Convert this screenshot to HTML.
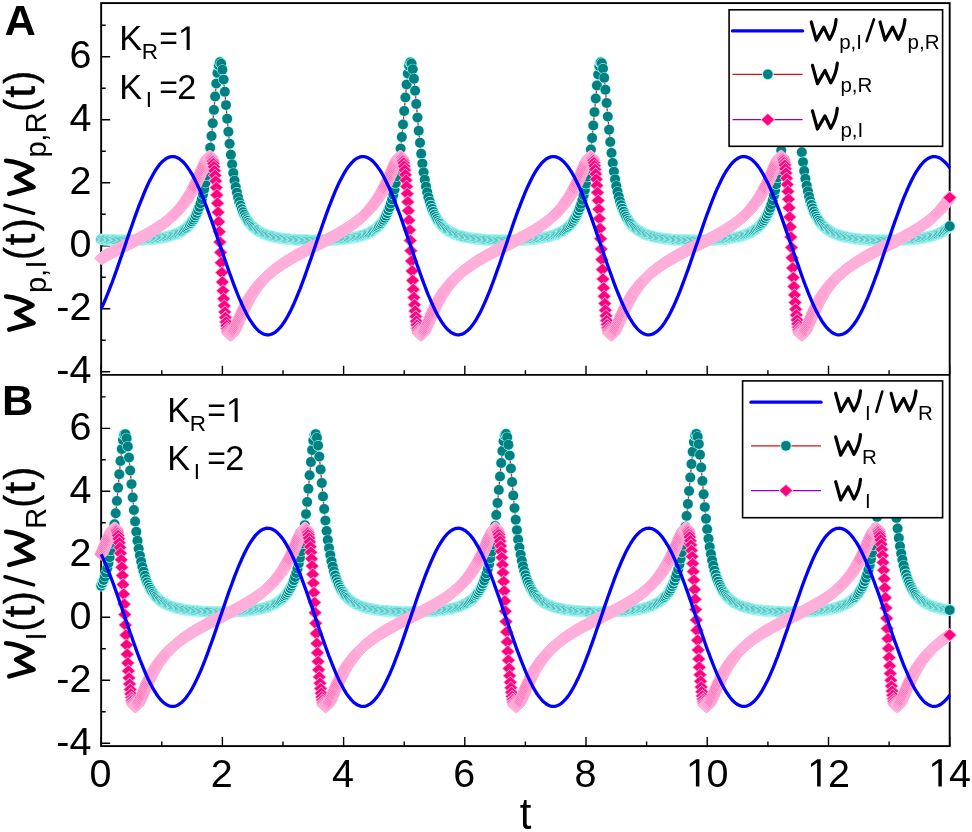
<!DOCTYPE html>
<html><head><meta charset="utf-8"><title>Figure</title><style>html,body{margin:0;padding:0;background:#fff}svg{display:block;will-change:transform}</style></head><body>
<svg width="972" height="832" viewBox="0 0 972 832">
<defs>
<marker id="mc" markerUnits="userSpaceOnUse" markerWidth="14" markerHeight="14" refX="7" refY="7" overflow="visible"><circle cx="7" cy="7" r="5.8" fill="#a2f8f5"/><circle cx="7" cy="7" r="4.85" fill="#008080"/></marker>
<marker id="mcs" markerUnits="userSpaceOnUse" markerWidth="14" markerHeight="14" refX="7" refY="7" overflow="visible"><circle cx="7" cy="7" r="5.5" fill="#a2f8f5"/><circle cx="7" cy="7" r="4.95" fill="#008080"/></marker>
<marker id="md" markerUnits="userSpaceOnUse" markerWidth="16" markerHeight="16" refX="8" refY="8" overflow="visible"><path d="M8 1.2 L15.3 8 L8 14.8 L0.7 8 Z" fill="#ffb0da"/><path d="M8 2.3 L14.2 8 L8 13.7 L1.8 8 Z" fill="#ff007f"/></marker>
<marker id="ml" markerUnits="userSpaceOnUse" markerWidth="16" markerHeight="16" refX="8" refY="8" overflow="visible"><path d="M8 1.2 L15.3 8 L8 14.8 L0.7 8 Z" fill="#ffb0da"/></marker>
<marker id="m1" markerUnits="userSpaceOnUse" markerWidth="16" markerHeight="16" refX="8" refY="8" overflow="visible"><path d="M8 1.2 L15.3 8 L8 14.8 L0.7 8 Z" fill="#ffb0da"/><path d="M8 2.3 L14.2 8 L8 13.7 L1.8 8 Z" fill="#ff8ec9"/></marker>
<marker id="m2" markerUnits="userSpaceOnUse" markerWidth="16" markerHeight="16" refX="8" refY="8" overflow="visible"><path d="M8 1.2 L15.3 8 L8 14.8 L0.7 8 Z" fill="#ffb0da"/><path d="M8 2.3 L14.2 8 L8 13.7 L1.8 8 Z" fill="#ff62b1"/></marker>
<marker id="m3" markerUnits="userSpaceOnUse" markerWidth="16" markerHeight="16" refX="8" refY="8" overflow="visible"><path d="M8 1.2 L15.3 8 L8 14.8 L0.7 8 Z" fill="#ffb0da"/><path d="M8 2.3 L14.2 8 L8 13.7 L1.8 8 Z" fill="#ff3098"/></marker>
<path id="w" d="M1.45 -19.8 L6.45 -1.6 L14 -14.7 L19.7 -2.35 Q25.4 -11.4 26.3 -22.15" fill="none" stroke="#000" stroke-linecap="round" stroke-linejoin="round"/>
</defs>
<rect width="972" height="832" fill="#fff"/>
<rect x="101.15" y="3.10" width="848.54" height="743.00" fill="none" stroke="#000" stroke-width="1.9"/>
<line x1="101.15" x2="949.69" y1="374.85" y2="374.85" stroke="#000" stroke-width="1.8"/>
<path d="M101.2 371.7 h9.0 M101.2 340.2 h4.5 M101.2 308.7 h9.0 M101.2 277.2 h4.5 M101.2 245.7 h9.0 M101.2 214.2 h4.5 M101.2 182.7 h9.0 M101.2 151.2 h4.5 M101.2 119.7 h9.0 M101.2 88.2 h4.5 M101.2 56.7 h9.0 M101.2 25.2 h4.5 M101.2 374.7 v-9.0 M161.8 374.7 v-4.5 M222.4 374.7 v-9.0 M283.0 374.7 v-4.5 M343.6 374.7 v-9.0 M404.2 374.7 v-4.5 M464.8 374.7 v-9.0 M525.4 374.7 v-4.5 M586.0 374.7 v-9.0 M646.6 374.7 v-4.5 M707.2 374.7 v-9.0 M767.9 374.7 v-4.5 M828.5 374.7 v-9.0 M889.1 374.7 v-4.5 M949.7 374.7 v-9.0" stroke="#000" stroke-width="1.4" fill="none"/>
<path d="M101.2 743.3 h9.0 M101.2 711.8 h4.5 M101.2 680.3 h9.0 M101.2 648.8 h4.5 M101.2 617.3 h9.0 M101.2 585.8 h4.5 M101.2 554.3 h9.0 M101.2 522.8 h4.5 M101.2 491.3 h9.0 M101.2 459.8 h4.5 M101.2 428.4 h9.0 M101.2 396.9 h4.5 M101.2 746.1 v-9.0 M161.8 746.1 v-4.5 M222.4 746.1 v-9.0 M283.0 746.1 v-4.5 M343.6 746.1 v-9.0 M404.2 746.1 v-4.5 M464.8 746.1 v-9.0 M525.4 746.1 v-4.5 M586.0 746.1 v-9.0 M646.6 746.1 v-4.5 M707.2 746.1 v-9.0 M767.9 746.1 v-4.5 M828.5 746.1 v-9.0 M889.1 746.1 v-4.5 M949.7 746.1 v-9.0" stroke="#000" stroke-width="1.4" fill="none"/>
<text x="91.4" y="383.4" font-family="Liberation Sans, sans-serif" font-size="39.5" text-anchor="end" fill="#000">-4</text>
<text x="91.4" y="320.4" font-family="Liberation Sans, sans-serif" font-size="39.5" text-anchor="end" fill="#000">-2</text>
<text x="91.4" y="257.4" font-family="Liberation Sans, sans-serif" font-size="39.5" text-anchor="end" fill="#000">0</text>
<text x="91.4" y="194.4" font-family="Liberation Sans, sans-serif" font-size="39.5" text-anchor="end" fill="#000">2</text>
<text x="91.4" y="131.4" font-family="Liberation Sans, sans-serif" font-size="39.5" text-anchor="end" fill="#000">4</text>
<text x="91.4" y="68.4" font-family="Liberation Sans, sans-serif" font-size="39.5" text-anchor="end" fill="#000">6</text>
<text x="91.4" y="755.0" font-family="Liberation Sans, sans-serif" font-size="39.5" text-anchor="end" fill="#000">-4</text>
<text x="91.4" y="692.0" font-family="Liberation Sans, sans-serif" font-size="39.5" text-anchor="end" fill="#000">-2</text>
<text x="91.4" y="629.0" font-family="Liberation Sans, sans-serif" font-size="39.5" text-anchor="end" fill="#000">0</text>
<text x="91.4" y="566.0" font-family="Liberation Sans, sans-serif" font-size="39.5" text-anchor="end" fill="#000">2</text>
<text x="91.4" y="503.0" font-family="Liberation Sans, sans-serif" font-size="39.5" text-anchor="end" fill="#000">4</text>
<text x="91.4" y="440.1" font-family="Liberation Sans, sans-serif" font-size="39.5" text-anchor="end" fill="#000">6</text>
<text x="100.6" y="786.5" font-family="Liberation Sans, sans-serif" font-size="39.5" text-anchor="middle" fill="#000">0</text>
<text x="221.8" y="786.5" font-family="Liberation Sans, sans-serif" font-size="39.5" text-anchor="middle" fill="#000">2</text>
<text x="343.0" y="786.5" font-family="Liberation Sans, sans-serif" font-size="39.5" text-anchor="middle" fill="#000">4</text>
<text x="464.2" y="786.5" font-family="Liberation Sans, sans-serif" font-size="39.5" text-anchor="middle" fill="#000">6</text>
<text x="585.4" y="786.5" font-family="Liberation Sans, sans-serif" font-size="39.5" text-anchor="middle" fill="#000">8</text>
<path d="M582 0V1237L264 1010V1180L597 1409H763V0Z" transform="translate(684.68 786.50) scale(0.01929 -0.01929)" fill="#000"/>
<text x="706.6" y="786.5" font-family="Liberation Sans, sans-serif" font-size="39.5" fill="#000">0</text>
<path d="M582 0V1237L264 1010V1180L597 1409H763V0Z" transform="translate(805.90 786.50) scale(0.01929 -0.01929)" fill="#000"/>
<text x="827.9" y="786.5" font-family="Liberation Sans, sans-serif" font-size="39.5" fill="#000">2</text>
<path d="M582 0V1237L264 1010V1180L597 1409H763V0Z" transform="translate(927.12 786.50) scale(0.01929 -0.01929)" fill="#000"/>
<text x="949.1" y="786.5" font-family="Liberation Sans, sans-serif" font-size="39.5" fill="#000">4</text>
<text transform="translate(525.6 829) scale(1 1.065)" font-family="Liberation Sans, sans-serif" font-size="42" text-anchor="middle" fill="#000">t</text>
<polyline points="101.2,239.4 102.4,239.5 103.6,239.6 104.8,239.7 106.0,239.7 107.2,239.8 108.4,239.9 109.6,239.9 110.8,240.0 112.1,240.1 113.3,240.1 114.5,240.1 115.7,240.2 116.9,240.2 118.1,240.2 119.3,240.3 120.5,240.3 121.8,240.3 123.0,240.3 124.2,240.3 125.4,240.3 126.6,240.3 127.8,240.3 129.0,240.3 130.2,240.3 131.5,240.2 132.7,240.2 133.9,240.2 135.1,240.1 136.3,240.1 137.5,240.1 138.7,240.0 139.9,240.0 141.2,239.9 142.4,239.8 143.6,239.8 144.8,239.7 146.0,239.6 147.2,239.5 148.4,239.4 149.6,239.3 150.9,239.2 152.1,239.1 153.3,239.0 154.5,238.8 155.7,238.7 156.9,238.5 158.1,238.4 159.3,238.2 160.5,238.0 161.8,237.8 163.0,237.6 164.2,237.3 165.4,237.1 166.6,236.8 167.8,236.5 169.0,236.2 170.2,235.9 171.5,235.5 172.7,235.2 173.9,234.7 175.1,234.3 176.3,233.8 177.5,233.3 178.7,232.7 179.9,232.1 181.2,231.4 182.4,230.7 183.6,229.9 184.8,229.0 186.0,228.1 187.2,227.0 188.4,225.8 189.6,224.5 190.9,223.1 192.1,221.5 193.3,219.7 194.5,217.7 195.7,215.5 196.9,213.0 198.1,210.2 199.3,207.0 200.6,203.3 201.8,199.2 203.0,194.4 204.2,189.0 205.4,182.7 206.6,175.6 207.8,167.5 209.0,158.2 210.2,147.7 211.5,136.0 212.7,123.3 213.9,109.9 215.1,96.4 216.3,83.6 217.5,72.9 218.7,65.4 219.9,62.2 221.2,63.7 222.4,69.8 223.6,79.6 224.8,91.8 226.0,105.1 227.2,118.7 228.4,131.7 229.6,143.8 230.9,154.7 232.1,164.3 233.3,172.9 234.5,180.4 235.7,186.9 236.9,192.6 238.1,197.6 239.3,201.9 240.6,205.7 241.8,209.1 243.0,212.1 244.2,214.7 245.4,217.0 246.6,219.1 247.8,220.9 249.0,222.6 250.3,224.1 251.5,225.4 252.7,226.6 253.9,227.7 255.1,228.7 256.3,229.6 257.5,230.4 258.7,231.2 259.9,231.9 261.2,232.5 262.4,233.1 263.6,233.6 264.8,234.1 266.0,234.6 267.2,235.0 268.4,235.4 269.6,235.8 270.9,236.1 272.1,236.4 273.3,236.7 274.5,237.0 275.7,237.3 276.9,237.5 278.1,237.7 279.3,237.9 280.6,238.1 281.8,238.3 283.0,238.5 284.2,238.6 285.4,238.8 286.6,238.9 287.8,239.1 289.0,239.2 290.3,239.3 291.5,239.4 292.7,239.5 293.9,239.6 295.1,239.7 296.3,239.7 297.5,239.8 298.7,239.9 300.0,239.9 301.2,240.0 302.4,240.0 303.6,240.1 304.8,240.1 306.0,240.2 307.2,240.2 308.4,240.2 309.6,240.2 310.9,240.3 312.1,240.3 313.3,240.3 314.5,240.3 315.7,240.3 316.9,240.3 318.1,240.3 319.3,240.3 320.6,240.3 321.8,240.2 323.0,240.2 324.2,240.2 325.4,240.1 326.6,240.1 327.8,240.1 329.0,240.0 330.3,240.0 331.5,239.9 332.7,239.8 333.9,239.8 335.1,239.7 336.3,239.6 337.5,239.5 338.7,239.4 340.0,239.3 341.2,239.2 342.4,239.1 343.6,239.0 344.8,238.8 346.0,238.7 347.2,238.5 348.4,238.4 349.7,238.2 350.9,238.0 352.1,237.8 353.3,237.6 354.5,237.4 355.7,237.1 356.9,236.9 358.1,236.6 359.3,236.3 360.6,235.9 361.8,235.6 363.0,235.2 364.2,234.8 365.4,234.3 366.6,233.9 367.8,233.3 369.0,232.8 370.3,232.2 371.5,231.5 372.7,230.8 373.9,230.0 375.1,229.1 376.3,228.1 377.5,227.1 378.7,225.9 380.0,224.6 381.2,223.2 382.4,221.6 383.6,219.9 384.8,217.9 386.0,215.7 387.2,213.2 388.4,210.4 389.7,207.2 390.9,203.6 392.1,199.5 393.3,194.8 394.5,189.4 395.7,183.3 396.9,176.2 398.1,168.1 399.4,159.0 400.6,148.6 401.8,137.0 403.0,124.4 404.2,111.0 405.4,97.4 406.6,84.6 407.8,73.6 409.0,65.8 410.3,62.3 411.5,63.4 412.7,69.2 413.9,78.7 415.1,90.7 416.3,104.0 417.5,117.6 418.7,130.7 420.0,142.8 421.2,153.8 422.4,163.6 423.6,172.2 424.8,179.8 426.0,186.4 427.2,192.2 428.4,197.2 429.7,201.6 430.9,205.5 432.1,208.8 433.3,211.8 434.5,214.5 435.7,216.8 436.9,218.9 438.1,220.8 439.4,222.4 440.6,223.9 441.8,225.3 443.0,226.5 444.2,227.6 445.4,228.6 446.6,229.5 447.8,230.4 449.1,231.1 450.3,231.8 451.5,232.5 452.7,233.1 453.9,233.6 455.1,234.1 456.3,234.6 457.5,235.0 458.7,235.4 460.0,235.8 461.2,236.1 462.4,236.4 463.6,236.7 464.8,237.0 466.0,237.2 467.2,237.5 468.4,237.7 469.7,237.9 470.9,238.1 472.1,238.3 473.3,238.5 474.5,238.6 475.7,238.8 476.9,238.9 478.1,239.0 479.4,239.2 480.6,239.3 481.8,239.4 483.0,239.5 484.2,239.6 485.4,239.7 486.6,239.7 487.8,239.8 489.1,239.9 490.3,239.9 491.5,240.0 492.7,240.0 493.9,240.1 495.1,240.1 496.3,240.2 497.5,240.2 498.8,240.2 500.0,240.2 501.2,240.3 502.4,240.3 503.6,240.3 504.8,240.3 506.0,240.3 507.2,240.3 508.4,240.3 509.7,240.3 510.9,240.3 512.1,240.2 513.3,240.2 514.5,240.2 515.7,240.2 516.9,240.1 518.1,240.1 519.4,240.0 520.6,240.0 521.8,239.9 523.0,239.8 524.2,239.8 525.4,239.7 526.6,239.6 527.8,239.5 529.1,239.4 530.3,239.3 531.5,239.2 532.7,239.1 533.9,239.0 535.1,238.9 536.3,238.7 537.5,238.6 538.8,238.4 540.0,238.2 541.2,238.0 542.4,237.8 543.6,237.6 544.8,237.4 546.0,237.1 547.2,236.9 548.5,236.6 549.7,236.3 550.9,236.0 552.1,235.6 553.3,235.2 554.5,234.8 555.7,234.4 556.9,233.9 558.1,233.4 559.4,232.8 560.6,232.2 561.8,231.5 563.0,230.8 564.2,230.0 565.4,229.2 566.6,228.2 567.8,227.2 569.1,226.0 570.3,224.8 571.5,223.3 572.7,221.8 573.9,220.0 575.1,218.1 576.3,215.9 577.5,213.4 578.8,210.6 580.0,207.5 581.2,203.9 582.4,199.9 583.6,195.2 584.8,189.9 586.0,183.8 587.2,176.8 588.5,168.8 589.7,159.7 590.9,149.5 592.1,138.0 593.3,125.4 594.5,112.1 595.7,98.5 596.9,85.5 598.2,74.4 599.4,66.3 600.6,62.4 601.8,63.2 603.0,68.6 604.2,77.8 605.4,89.7 606.6,103.0 607.8,116.6 609.1,129.7 610.3,141.9 611.5,153.0 612.7,162.9 613.9,171.6 615.1,179.2 616.3,185.9 617.5,191.7 618.8,196.8 620.0,201.3 621.2,205.2 622.4,208.6 623.6,211.6 624.8,214.3 626.0,216.6 627.2,218.8 628.5,220.6 629.7,222.3 630.9,223.8 632.1,225.2 633.3,226.4 634.5,227.5 635.7,228.5 636.9,229.5 638.2,230.3 639.4,231.1 640.6,231.8 641.8,232.4 643.0,233.0 644.2,233.6 645.4,234.1 646.6,234.5 647.9,235.0 649.1,235.4 650.3,235.7 651.5,236.1 652.7,236.4 653.9,236.7 655.1,237.0 656.3,237.2 657.5,237.5 658.8,237.7 660.0,237.9 661.2,238.1 662.4,238.3 663.6,238.5 664.8,238.6 666.0,238.8 667.2,238.9 668.5,239.0 669.7,239.2 670.9,239.3 672.1,239.4 673.3,239.5 674.5,239.6 675.7,239.7 676.9,239.7 678.2,239.8 679.4,239.9 680.6,239.9 681.8,240.0 683.0,240.0 684.2,240.1 685.4,240.1 686.6,240.2 687.9,240.2 689.1,240.2 690.3,240.2 691.5,240.3 692.7,240.3 693.9,240.3 695.1,240.3 696.3,240.3 697.6,240.3 698.8,240.3 700.0,240.3 701.2,240.3 702.4,240.2 703.6,240.2 704.8,240.2 706.0,240.2 707.2,240.1 708.5,240.1 709.7,240.0 710.9,240.0 712.1,239.9 713.3,239.9 714.5,239.8 715.7,239.7 716.9,239.6 718.2,239.5 719.4,239.5 720.6,239.3 721.8,239.2 723.0,239.1 724.2,239.0 725.4,238.9 726.6,238.7 727.9,238.6 729.1,238.4 730.3,238.2 731.5,238.0 732.7,237.8 733.9,237.6 735.1,237.4 736.3,237.2 737.6,236.9 738.8,236.6 740.0,236.3 741.2,236.0 742.4,235.6 743.6,235.3 744.8,234.8 746.0,234.4 747.3,233.9 748.5,233.4 749.7,232.9 750.9,232.3 752.1,231.6 753.3,230.9 754.5,230.1 755.7,229.2 757.0,228.3 758.2,227.3 759.4,226.1 760.6,224.9 761.8,223.5 763.0,221.9 764.2,220.2 765.4,218.2 766.6,216.1 767.9,213.6 769.1,210.9 770.3,207.8 771.5,204.2 772.7,200.2 773.9,195.6 775.1,190.3 776.3,184.3 777.6,177.4 778.8,169.5 780.0,160.5 781.2,150.3 782.4,138.9 783.6,126.4 784.8,113.1 786.0,99.6 787.3,86.5 788.5,75.2 789.7,66.8 790.9,62.5 792.1,62.9 793.3,68.0 794.5,77.0 795.7,88.7 797.0,101.9 798.2,115.5 799.4,128.7 800.6,141.0 801.8,152.2 803.0,162.1 804.2,170.9 805.4,178.7 806.7,185.4 807.9,191.3 809.1,196.4 810.3,200.9 811.5,204.9 812.7,208.3 813.9,211.4 815.1,214.1 816.3,216.5 817.6,218.6 818.8,220.5 820.0,222.2 821.2,223.7 822.4,225.1 823.6,226.3 824.8,227.4 826.0,228.5 827.3,229.4 828.5,230.2 829.7,231.0 830.9,231.7 832.1,232.4 833.3,233.0 834.5,233.5 835.7,234.0 837.0,234.5 838.2,234.9 839.4,235.3 840.6,235.7 841.8,236.0 843.0,236.4 844.2,236.7 845.4,236.9 846.7,237.2 847.9,237.4 849.1,237.7 850.3,237.9 851.5,238.1 852.7,238.3 853.9,238.4 855.1,238.6 856.4,238.8 857.6,238.9 858.8,239.0 860.0,239.1 861.2,239.3 862.4,239.4 863.6,239.5 864.8,239.6 866.0,239.6 867.3,239.7 868.5,239.8 869.7,239.9 870.9,239.9 872.1,240.0 873.3,240.0 874.5,240.1 875.7,240.1 877.0,240.2 878.2,240.2 879.4,240.2 880.6,240.2 881.8,240.3 883.0,240.3 884.2,240.3 885.4,240.3 886.7,240.3 887.9,240.3 889.1,240.3 890.3,240.3 891.5,240.3 892.7,240.2 893.9,240.2 895.1,240.2 896.4,240.2 897.6,240.1 898.8,240.1 900.0,240.0 901.2,240.0 902.4,239.9 903.6,239.9 904.8,239.8 906.1,239.7 907.3,239.6 908.5,239.6 909.7,239.5 910.9,239.4 912.1,239.3 913.3,239.1 914.5,239.0 915.7,238.9 917.0,238.7 918.2,238.6 919.4,238.4 920.6,238.2 921.8,238.1 923.0,237.9 924.2,237.7 925.4,237.4 926.7,237.2 927.9,236.9 929.1,236.6 930.3,236.3 931.5,236.0 932.7,235.7 933.9,235.3 935.1,234.9 936.4,234.4 937.6,234.0 938.8,233.5 940.0,232.9 941.2,232.3 942.4,231.7 943.6,230.9 944.8,230.2 946.1,229.3 947.3,228.4 948.5,227.3 949.7,226.2" fill="none" stroke="#f01818" stroke-width="1.3"/>
<polyline points="101.2,239.4 102.4,239.5 103.6,239.6 104.8,239.7 106.0,239.7 107.2,239.8 108.4,239.9 109.6,239.9 110.8,240.0 112.1,240.1 113.3,240.1 114.5,240.1 115.7,240.2 116.9,240.2 118.1,240.2 119.3,240.3 120.5,240.3 121.8,240.3 123.0,240.3 124.2,240.3 125.4,240.3 126.6,240.3 127.8,240.3 129.0,240.3 130.2,240.3 131.5,240.2 132.7,240.2 133.9,240.2 135.1,240.1 136.3,240.1 137.5,240.1 138.7,240.0 139.9,240.0 141.2,239.9 142.4,239.8 143.6,239.8 144.8,239.7 146.0,239.6 147.2,239.5 148.4,239.4 149.6,239.3 150.9,239.2 152.1,239.1 153.3,239.0 154.5,238.8 155.7,238.7 156.9,238.5 158.1,238.4 159.3,238.2 160.5,238.0 161.8,237.8 163.0,237.6 164.2,237.3 165.4,237.1 166.6,236.8 167.8,236.5 169.0,236.2 170.2,235.9 171.5,235.5 172.7,235.2 173.9,234.7 175.1,234.3 176.3,233.8 177.5,233.3 178.7,232.7 179.9,232.1 181.2,231.4 182.4,230.7 183.6,229.9 184.8,229.0 186.0,228.1 187.2,227.0 188.4,225.8 189.6,224.5 190.9,223.1 192.1,221.5 193.3,219.7 194.5,217.7 195.7,215.5 196.9,213.0 198.1,210.2 199.3,207.0" fill="none" stroke="none" marker-start="url(#mc)" marker-mid="url(#mc)" marker-end="url(#mc)"/>
<polyline points="200.6,203.3 201.8,199.2 203.0,194.4 204.2,189.0 205.4,182.7 206.6,175.6 207.8,167.5 209.0,158.2 210.2,147.7 211.5,136.0 212.7,123.3 213.9,109.9 215.1,96.4 216.3,83.6 217.5,72.9" fill="none" stroke="none" marker-start="url(#mcs)" marker-mid="url(#mcs)" marker-end="url(#mcs)"/>
<polyline points="218.7,65.4 219.9,62.2" fill="none" stroke="none" marker-start="url(#mc)" marker-mid="url(#mc)" marker-end="url(#mc)"/>
<polyline points="221.2,63.7 222.4,69.8 223.6,79.6 224.8,91.8 226.0,105.1 227.2,118.7 228.4,131.7 229.6,143.8 230.9,154.7 232.1,164.3 233.3,172.9 234.5,180.4 235.7,186.9 236.9,192.6 238.1,197.6 239.3,201.9" fill="none" stroke="none" marker-start="url(#mcs)" marker-mid="url(#mcs)" marker-end="url(#mcs)"/>
<polyline points="240.6,205.7 241.8,209.1 243.0,212.1 244.2,214.7 245.4,217.0 246.6,219.1 247.8,220.9 249.0,222.6 250.3,224.1 251.5,225.4 252.7,226.6 253.9,227.7 255.1,228.7 256.3,229.6 257.5,230.4 258.7,231.2 259.9,231.9 261.2,232.5 262.4,233.1 263.6,233.6 264.8,234.1 266.0,234.6 267.2,235.0 268.4,235.4 269.6,235.8 270.9,236.1 272.1,236.4 273.3,236.7 274.5,237.0 275.7,237.3 276.9,237.5 278.1,237.7 279.3,237.9 280.6,238.1 281.8,238.3 283.0,238.5 284.2,238.6 285.4,238.8 286.6,238.9 287.8,239.1 289.0,239.2 290.3,239.3 291.5,239.4 292.7,239.5 293.9,239.6 295.1,239.7 296.3,239.7 297.5,239.8 298.7,239.9 300.0,239.9 301.2,240.0 302.4,240.0 303.6,240.1 304.8,240.1 306.0,240.2 307.2,240.2 308.4,240.2 309.6,240.2 310.9,240.3 312.1,240.3 313.3,240.3 314.5,240.3 315.7,240.3 316.9,240.3 318.1,240.3 319.3,240.3 320.6,240.3 321.8,240.2 323.0,240.2 324.2,240.2 325.4,240.1 326.6,240.1 327.8,240.1 329.0,240.0 330.3,240.0 331.5,239.9 332.7,239.8 333.9,239.8 335.1,239.7 336.3,239.6 337.5,239.5 338.7,239.4 340.0,239.3 341.2,239.2 342.4,239.1 343.6,239.0 344.8,238.8 346.0,238.7 347.2,238.5 348.4,238.4 349.7,238.2 350.9,238.0 352.1,237.8 353.3,237.6 354.5,237.4 355.7,237.1 356.9,236.9 358.1,236.6 359.3,236.3 360.6,235.9 361.8,235.6 363.0,235.2 364.2,234.8 365.4,234.3 366.6,233.9 367.8,233.3 369.0,232.8 370.3,232.2 371.5,231.5 372.7,230.8 373.9,230.0 375.1,229.1 376.3,228.1 377.5,227.1 378.7,225.9 380.0,224.6 381.2,223.2 382.4,221.6 383.6,219.9 384.8,217.9 386.0,215.7 387.2,213.2 388.4,210.4 389.7,207.2" fill="none" stroke="none" marker-start="url(#mc)" marker-mid="url(#mc)" marker-end="url(#mc)"/>
<polyline points="390.9,203.6 392.1,199.5 393.3,194.8 394.5,189.4 395.7,183.3 396.9,176.2 398.1,168.1 399.4,159.0 400.6,148.6 401.8,137.0 403.0,124.4 404.2,111.0 405.4,97.4 406.6,84.6 407.8,73.6" fill="none" stroke="none" marker-start="url(#mcs)" marker-mid="url(#mcs)" marker-end="url(#mcs)"/>
<polyline points="409.0,65.8 410.3,62.3" fill="none" stroke="none" marker-start="url(#mc)" marker-mid="url(#mc)" marker-end="url(#mc)"/>
<polyline points="411.5,63.4 412.7,69.2 413.9,78.7 415.1,90.7 416.3,104.0 417.5,117.6 418.7,130.7 420.0,142.8 421.2,153.8 422.4,163.6 423.6,172.2 424.8,179.8 426.0,186.4 427.2,192.2 428.4,197.2 429.7,201.6" fill="none" stroke="none" marker-start="url(#mcs)" marker-mid="url(#mcs)" marker-end="url(#mcs)"/>
<polyline points="430.9,205.5 432.1,208.8 433.3,211.8 434.5,214.5 435.7,216.8 436.9,218.9 438.1,220.8 439.4,222.4 440.6,223.9 441.8,225.3 443.0,226.5 444.2,227.6 445.4,228.6 446.6,229.5 447.8,230.4 449.1,231.1 450.3,231.8 451.5,232.5 452.7,233.1 453.9,233.6 455.1,234.1 456.3,234.6 457.5,235.0 458.7,235.4 460.0,235.8 461.2,236.1 462.4,236.4 463.6,236.7 464.8,237.0 466.0,237.2 467.2,237.5 468.4,237.7 469.7,237.9 470.9,238.1 472.1,238.3 473.3,238.5 474.5,238.6 475.7,238.8 476.9,238.9 478.1,239.0 479.4,239.2 480.6,239.3 481.8,239.4 483.0,239.5 484.2,239.6 485.4,239.7 486.6,239.7 487.8,239.8 489.1,239.9 490.3,239.9 491.5,240.0 492.7,240.0 493.9,240.1 495.1,240.1 496.3,240.2 497.5,240.2 498.8,240.2 500.0,240.2 501.2,240.3 502.4,240.3 503.6,240.3 504.8,240.3 506.0,240.3 507.2,240.3 508.4,240.3 509.7,240.3 510.9,240.3 512.1,240.2 513.3,240.2 514.5,240.2 515.7,240.2 516.9,240.1 518.1,240.1 519.4,240.0 520.6,240.0 521.8,239.9 523.0,239.8 524.2,239.8 525.4,239.7 526.6,239.6 527.8,239.5 529.1,239.4 530.3,239.3 531.5,239.2 532.7,239.1 533.9,239.0 535.1,238.9 536.3,238.7 537.5,238.6 538.8,238.4 540.0,238.2 541.2,238.0 542.4,237.8 543.6,237.6 544.8,237.4 546.0,237.1 547.2,236.9 548.5,236.6 549.7,236.3 550.9,236.0 552.1,235.6 553.3,235.2 554.5,234.8 555.7,234.4 556.9,233.9 558.1,233.4 559.4,232.8 560.6,232.2 561.8,231.5 563.0,230.8 564.2,230.0 565.4,229.2 566.6,228.2 567.8,227.2 569.1,226.0 570.3,224.8 571.5,223.3 572.7,221.8 573.9,220.0 575.1,218.1 576.3,215.9 577.5,213.4 578.8,210.6 580.0,207.5" fill="none" stroke="none" marker-start="url(#mc)" marker-mid="url(#mc)" marker-end="url(#mc)"/>
<polyline points="581.2,203.9 582.4,199.9 583.6,195.2 584.8,189.9 586.0,183.8 587.2,176.8 588.5,168.8 589.7,159.7 590.9,149.5 592.1,138.0 593.3,125.4 594.5,112.1 595.7,98.5 596.9,85.5 598.2,74.4 599.4,66.3" fill="none" stroke="none" marker-start="url(#mcs)" marker-mid="url(#mcs)" marker-end="url(#mcs)"/>
<polyline points="600.6,62.4 600.6,62.4" fill="none" stroke="none" marker-start="url(#mc)" marker-mid="url(#mc)" marker-end="url(#mc)"/>
<polyline points="601.8,63.2 603.0,68.6 604.2,77.8 605.4,89.7 606.6,103.0 607.8,116.6 609.1,129.7 610.3,141.9 611.5,153.0 612.7,162.9 613.9,171.6 615.1,179.2 616.3,185.9 617.5,191.7 618.8,196.8 620.0,201.3" fill="none" stroke="none" marker-start="url(#mcs)" marker-mid="url(#mcs)" marker-end="url(#mcs)"/>
<polyline points="621.2,205.2 622.4,208.6 623.6,211.6 624.8,214.3 626.0,216.6 627.2,218.8 628.5,220.6 629.7,222.3 630.9,223.8 632.1,225.2 633.3,226.4 634.5,227.5 635.7,228.5 636.9,229.5 638.2,230.3 639.4,231.1 640.6,231.8 641.8,232.4 643.0,233.0 644.2,233.6 645.4,234.1 646.6,234.5 647.9,235.0 649.1,235.4 650.3,235.7 651.5,236.1 652.7,236.4 653.9,236.7 655.1,237.0 656.3,237.2 657.5,237.5 658.8,237.7 660.0,237.9 661.2,238.1 662.4,238.3 663.6,238.5 664.8,238.6 666.0,238.8 667.2,238.9 668.5,239.0 669.7,239.2 670.9,239.3 672.1,239.4 673.3,239.5 674.5,239.6 675.7,239.7 676.9,239.7 678.2,239.8 679.4,239.9 680.6,239.9 681.8,240.0 683.0,240.0 684.2,240.1 685.4,240.1 686.6,240.2 687.9,240.2 689.1,240.2 690.3,240.2 691.5,240.3 692.7,240.3 693.9,240.3 695.1,240.3 696.3,240.3 697.6,240.3 698.8,240.3 700.0,240.3 701.2,240.3 702.4,240.2 703.6,240.2 704.8,240.2 706.0,240.2 707.2,240.1 708.5,240.1 709.7,240.0 710.9,240.0 712.1,239.9 713.3,239.9 714.5,239.8 715.7,239.7 716.9,239.6 718.2,239.5 719.4,239.5 720.6,239.3 721.8,239.2 723.0,239.1 724.2,239.0 725.4,238.9 726.6,238.7 727.9,238.6 729.1,238.4 730.3,238.2 731.5,238.0 732.7,237.8 733.9,237.6 735.1,237.4 736.3,237.2 737.6,236.9 738.8,236.6 740.0,236.3 741.2,236.0 742.4,235.6 743.6,235.3 744.8,234.8 746.0,234.4 747.3,233.9 748.5,233.4 749.7,232.9 750.9,232.3 752.1,231.6 753.3,230.9 754.5,230.1 755.7,229.2 757.0,228.3 758.2,227.3 759.4,226.1 760.6,224.9 761.8,223.5 763.0,221.9 764.2,220.2 765.4,218.2 766.6,216.1 767.9,213.6 769.1,210.9 770.3,207.8" fill="none" stroke="none" marker-start="url(#mc)" marker-mid="url(#mc)" marker-end="url(#mc)"/>
<polyline points="771.5,204.2 772.7,200.2 773.9,195.6 775.1,190.3 776.3,184.3 777.6,177.4 778.8,169.5 780.0,160.5 781.2,150.3 782.4,138.9 783.6,126.4 784.8,113.1 786.0,99.6 787.3,86.5 788.5,75.2 789.7,66.8" fill="none" stroke="none" marker-start="url(#mcs)" marker-mid="url(#mcs)" marker-end="url(#mcs)"/>
<polyline points="790.9,62.5 790.9,62.5" fill="none" stroke="none" marker-start="url(#mc)" marker-mid="url(#mc)" marker-end="url(#mc)"/>
<polyline points="792.1,62.9 793.3,68.0 794.5,77.0 795.7,88.7 797.0,101.9 798.2,115.5 799.4,128.7 800.6,141.0 801.8,152.2 803.0,162.1 804.2,170.9 805.4,178.7 806.7,185.4 807.9,191.3 809.1,196.4 810.3,200.9" fill="none" stroke="none" marker-start="url(#mcs)" marker-mid="url(#mcs)" marker-end="url(#mcs)"/>
<polyline points="811.5,204.9 812.7,208.3 813.9,211.4 815.1,214.1 816.3,216.5 817.6,218.6 818.8,220.5 820.0,222.2 821.2,223.7 822.4,225.1 823.6,226.3 824.8,227.4 826.0,228.5 827.3,229.4 828.5,230.2 829.7,231.0 830.9,231.7 832.1,232.4 833.3,233.0 834.5,233.5 835.7,234.0 837.0,234.5 838.2,234.9 839.4,235.3 840.6,235.7 841.8,236.0 843.0,236.4 844.2,236.7 845.4,236.9 846.7,237.2 847.9,237.4 849.1,237.7 850.3,237.9 851.5,238.1 852.7,238.3 853.9,238.4 855.1,238.6 856.4,238.8 857.6,238.9 858.8,239.0 860.0,239.1 861.2,239.3 862.4,239.4 863.6,239.5 864.8,239.6 866.0,239.6 867.3,239.7 868.5,239.8 869.7,239.9 870.9,239.9 872.1,240.0 873.3,240.0 874.5,240.1 875.7,240.1 877.0,240.2 878.2,240.2 879.4,240.2 880.6,240.2 881.8,240.3 883.0,240.3 884.2,240.3 885.4,240.3 886.7,240.3 887.9,240.3 889.1,240.3 890.3,240.3 891.5,240.3 892.7,240.2 893.9,240.2 895.1,240.2 896.4,240.2 897.6,240.1 898.8,240.1 900.0,240.0 901.2,240.0 902.4,239.9 903.6,239.9 904.8,239.8 906.1,239.7 907.3,239.6 908.5,239.6 909.7,239.5 910.9,239.4 912.1,239.3 913.3,239.1 914.5,239.0 915.7,238.9 917.0,238.7 918.2,238.6 919.4,238.4 920.6,238.2 921.8,238.1 923.0,237.9 924.2,237.7 925.4,237.4 926.7,237.2 927.9,236.9 929.1,236.6 930.3,236.3 931.5,236.0 932.7,235.7 933.9,235.3 935.1,234.9 936.4,234.4 937.6,234.0 938.8,233.5 940.0,232.9 941.2,232.3 942.4,231.7 943.6,230.9 944.8,230.2 946.1,229.3 947.3,228.4 948.5,227.3" fill="none" stroke="none" marker-start="url(#mc)" marker-mid="url(#mc)" marker-end="url(#mc)"/>
<polyline points="949.7,226.2 949.7,226.2" fill="none" stroke="none" marker-start="url(#mcs)" marker-mid="url(#mcs)" marker-end="url(#mcs)"/>
<polyline points="101.2,258.3 101.8,257.9 102.4,257.6 103.0,257.3 103.6,256.9 104.2,256.6 104.8,256.2 105.4,255.9 106.0,255.6 106.6,255.2 107.2,254.9 107.8,254.6 108.4,254.2 109.0,253.9 109.6,253.6 110.2,253.3 110.8,252.9 111.5,252.6 112.1,252.3 112.7,252.0 113.3,251.7 113.9,251.3 114.5,251.0 115.1,250.7 115.7,250.4 116.3,250.1 116.9,249.8 117.5,249.5 118.1,249.2 118.7,248.8 119.3,248.5 119.9,248.2 120.5,247.9 121.2,247.6 121.8,247.3 122.4,247.0 123.0,246.7 123.6,246.4 124.2,246.1 124.8,245.8 125.4,245.5 126.0,245.2 126.6,244.9 127.2,244.6 127.8,244.3 128.4,243.9 129.0,243.6 129.6,243.3 130.2,243.0 130.8,242.7 131.5,242.4 132.1,242.1 132.7,241.8 133.3,241.5 133.9,241.2 134.5,240.9 135.1,240.5 135.7,240.2 136.3,239.9 136.9,239.6 137.5,239.3 138.1,239.0 138.7,238.6 139.3,238.3 139.9,238.0 140.5,237.7 141.2,237.3 141.8,237.0 142.4,236.7 143.0,236.4 143.6,236.0 144.2,235.7 144.8,235.4 145.4,235.0 146.0,234.7 146.6,234.3 147.2,234.0 147.8,233.6 148.4,233.3 149.0,232.9 149.6,232.6 150.2,232.2 150.9,231.9 151.5,231.5 152.1,231.1 152.7,230.8 153.3,230.4 153.9,230.0 154.5,229.6 155.1,229.2 155.7,228.9 156.3,228.5 156.9,228.1 157.5,227.7 158.1,227.3 158.7,226.9 159.3,226.5 159.9,226.0 160.5,225.6 161.2,225.2 161.8,224.8 162.4,224.3 163.0,223.9 163.6,223.4 164.2,223.0 164.8,222.5 165.4,222.0 166.0,221.6 166.6,221.1 167.2,220.6 167.8,220.1 168.4,219.6 169.0,219.1 169.6,218.6 170.2,218.1 170.9,217.5 171.5,217.0 172.1,216.5 172.7,215.9 173.3,215.3 173.9,214.8" fill="none" stroke="none" marker-start="url(#ml)" marker-mid="url(#ml)" marker-end="url(#ml)"/>
<polyline points="174.5,214.2 175.1,213.6 175.7,213.0 176.3,212.3 176.9,211.7 177.5,211.1 178.1,210.4 178.7,209.8 179.3,209.1 179.9,208.4 180.5,207.7 181.2,207.0 181.8,206.2 182.4,205.5 183.0,204.7 183.6,203.9 184.2,203.1 184.8,202.3 185.4,201.5 186.0,200.6 186.6,199.8 187.2,198.9 187.8,198.0 188.4,197.0 189.0,196.1 189.6,195.1 190.2,194.1 190.9,193.1 191.5,192.0 192.1,191.0 192.7,189.9 193.3,188.8" fill="none" stroke="none" marker-start="url(#m1)" marker-mid="url(#m1)" marker-end="url(#m1)"/>
<polyline points="193.9,187.6 194.5,186.5 195.1,185.3 195.7,184.0 196.3,182.8 196.9,181.5 197.5,180.2 198.1,178.9 198.7,177.6 199.3,176.2 199.9,174.8 200.6,173.4 201.2,172.0 201.8,170.6 202.4,169.2 203.0,167.8 203.6,166.4 204.2,165.0 204.8,163.7 205.4,162.4" fill="none" stroke="none" marker-start="url(#m2)" marker-mid="url(#m2)" marker-end="url(#m2)"/>
<polyline points="206.0,161.2 206.6,160.0 207.2,159.0 207.8,158.1" fill="none" stroke="none" marker-start="url(#m1)" marker-mid="url(#m1)" marker-end="url(#m1)"/>
<polyline points="208.4,157.4 209.0,156.9 209.6,156.6 210.2,156.7" fill="none" stroke="none" marker-start="url(#ml)" marker-mid="url(#ml)" marker-end="url(#ml)"/>
<polyline points="210.9,157.1 210.9,157.1" fill="none" stroke="none" marker-start="url(#m1)" marker-mid="url(#m1)" marker-end="url(#m1)"/>
<polyline points="211.5,157.9 212.1,159.2" fill="none" stroke="none" marker-start="url(#m2)" marker-mid="url(#m2)" marker-end="url(#m2)"/>
<polyline points="212.7,161.1 212.7,161.1" fill="none" stroke="none" marker-start="url(#m3)" marker-mid="url(#m3)" marker-end="url(#m3)"/>
<polyline points="213.3,163.6 213.9,166.8 214.5,170.7 215.1,175.5 215.7,181.1 216.3,187.6 216.9,195.0 217.5,203.2 218.1,212.2 218.7,221.7 219.3,231.8 219.9,242.1 220.6,252.4 221.2,262.7 221.8,272.6 222.4,282.0 223.0,290.7 223.6,298.7 224.2,305.8 224.8,312.1 225.4,317.4 226.0,322.0 226.6,325.7" fill="none" stroke="none" marker-start="url(#md)" marker-mid="url(#md)" marker-end="url(#md)"/>
<polyline points="227.2,328.7 227.2,328.7" fill="none" stroke="none" marker-start="url(#m3)" marker-mid="url(#m3)" marker-end="url(#m3)"/>
<polyline points="227.8,330.9 228.4,332.6" fill="none" stroke="none" marker-start="url(#m2)" marker-mid="url(#m2)" marker-end="url(#m2)"/>
<polyline points="229.0,333.8 229.0,333.8" fill="none" stroke="none" marker-start="url(#m1)" marker-mid="url(#m1)" marker-end="url(#m1)"/>
<polyline points="229.6,334.5 230.2,334.8 230.9,334.7 231.5,334.4" fill="none" stroke="none" marker-start="url(#ml)" marker-mid="url(#ml)" marker-end="url(#ml)"/>
<polyline points="232.1,333.8 232.7,333.0 233.3,332.1" fill="none" stroke="none" marker-start="url(#m1)" marker-mid="url(#m1)" marker-end="url(#m1)"/>
<polyline points="233.9,331.1 234.5,329.9 235.1,328.6 235.7,327.3 236.3,326.0 236.9,324.6 237.5,323.2 238.1,321.8 238.7,320.4 239.3,318.9 239.9,317.5 240.6,316.2 241.2,314.8 241.8,313.4 242.4,312.1 243.0,310.8 243.6,309.5 244.2,308.2 244.8,307.0 245.4,305.8 246.0,304.6" fill="none" stroke="none" marker-start="url(#m2)" marker-mid="url(#m2)" marker-end="url(#m2)"/>
<polyline points="246.6,303.4 247.2,302.3 247.8,301.2 248.4,300.1 249.0,299.0 249.6,298.0 250.3,297.0 250.9,296.0 251.5,295.0 252.1,294.1 252.7,293.2 253.3,292.3 253.9,291.4 254.5,290.5 255.1,289.7 255.7,288.8 256.3,288.0 256.9,287.2 257.5,286.5 258.1,285.7 258.7,284.9 259.3,284.2 259.9,283.5 260.6,282.8 261.2,282.1 261.8,281.4 262.4,280.8 263.0,280.1 263.6,279.5 264.2,278.9 264.8,278.3" fill="none" stroke="none" marker-start="url(#m1)" marker-mid="url(#m1)" marker-end="url(#m1)"/>
<polyline points="265.4,277.6 266.0,277.1 266.6,276.5 267.2,275.9 267.8,275.3 268.4,274.8 269.0,274.2 269.6,273.7 270.3,273.2 270.9,272.7 271.5,272.1 272.1,271.6 272.7,271.1 273.3,270.6 273.9,270.2 274.5,269.7 275.1,269.2 275.7,268.8 276.3,268.3 276.9,267.8 277.5,267.4 278.1,267.0 278.7,266.5 279.3,266.1 279.9,265.7 280.6,265.2 281.2,264.8 281.8,264.4 282.4,264.0 283.0,263.6 283.6,263.2 284.2,262.8 284.8,262.4 285.4,262.0 286.0,261.7 286.6,261.3 287.2,260.9 287.8,260.5 288.4,260.2 289.0,259.8 289.6,259.4 290.3,259.1 290.9,258.7 291.5,258.4 292.1,258.0 292.7,257.7 293.3,257.3 293.9,257.0 294.5,256.6 295.1,256.3 295.7,255.9 296.3,255.6 296.9,255.3 297.5,254.9 298.1,254.6 298.7,254.3 299.3,254.0 300.0,253.6 300.6,253.3 301.2,253.0 301.8,252.7 302.4,252.3 303.0,252.0 303.6,251.7 304.2,251.4 304.8,251.1 305.4,250.8 306.0,250.5 306.6,250.1 307.2,249.8 307.8,249.5 308.4,249.2 309.0,248.9 309.6,248.6 310.3,248.3 310.9,248.0 311.5,247.7 312.1,247.4 312.7,247.1 313.3,246.7 313.9,246.4 314.5,246.1 315.1,245.8 315.7,245.5 316.3,245.2 316.9,244.9 317.5,244.6 318.1,244.3 318.7,244.0 319.3,243.7 320.0,243.4 320.6,243.1 321.2,242.8 321.8,242.5 322.4,242.1 323.0,241.8 323.6,241.5 324.2,241.2 324.8,240.9 325.4,240.6 326.0,240.3 326.6,240.0 327.2,239.6 327.8,239.3 328.4,239.0 329.0,238.7 329.6,238.4 330.3,238.0 330.9,237.7 331.5,237.4 332.1,237.1 332.7,236.7 333.3,236.4 333.9,236.1 334.5,235.7 335.1,235.4 335.7,235.1 336.3,234.7 336.9,234.4 337.5,234.0 338.1,233.7 338.7,233.3 339.3,233.0 340.0,232.6 340.6,232.3 341.2,231.9 341.8,231.6 342.4,231.2 343.0,230.8 343.6,230.4 344.2,230.1 344.8,229.7 345.4,229.3 346.0,228.9 346.6,228.5 347.2,228.1 347.8,227.7 348.4,227.3 349.0,226.9 349.7,226.5 350.3,226.1 350.9,225.7 351.5,225.3 352.1,224.8 352.7,224.4 353.3,223.9 353.9,223.5 354.5,223.0 355.1,222.6 355.7,222.1 356.3,221.6 356.9,221.2 357.5,220.7 358.1,220.2 358.7,219.7 359.3,219.2 360.0,218.7 360.6,218.2 361.2,217.6 361.8,217.1 362.4,216.5 363.0,216.0 363.6,215.4 364.2,214.8 364.8,214.3" fill="none" stroke="none" marker-start="url(#ml)" marker-mid="url(#ml)" marker-end="url(#ml)"/>
<polyline points="365.4,213.7 366.0,213.1 366.6,212.4 367.2,211.8 367.8,211.2 368.4,210.5 369.0,209.9 369.7,209.2 370.3,208.5 370.9,207.8 371.5,207.1 372.1,206.3 372.7,205.6 373.3,204.8 373.9,204.1 374.5,203.3 375.1,202.5 375.7,201.6 376.3,200.8 376.9,199.9 377.5,199.0 378.1,198.1 378.7,197.2 379.3,196.2 380.0,195.3 380.6,194.3 381.2,193.3 381.8,192.2 382.4,191.2 383.0,190.1 383.6,188.9" fill="none" stroke="none" marker-start="url(#m1)" marker-mid="url(#m1)" marker-end="url(#m1)"/>
<polyline points="384.2,187.8 384.8,186.6 385.4,185.5 386.0,184.2 386.6,183.0 387.2,181.7 387.8,180.4 388.4,179.1 389.0,177.8 389.7,176.4 390.3,175.1 390.9,173.7 391.5,172.3 392.1,170.8 392.7,169.4 393.3,168.0 393.9,166.6 394.5,165.2 395.1,163.9 395.7,162.6 396.3,161.3" fill="none" stroke="none" marker-start="url(#m2)" marker-mid="url(#m2)" marker-end="url(#m2)"/>
<polyline points="396.9,160.2 397.5,159.1 398.1,158.2" fill="none" stroke="none" marker-start="url(#m1)" marker-mid="url(#m1)" marker-end="url(#m1)"/>
<polyline points="398.7,157.5 399.4,156.9 400.0,156.6 400.6,156.6" fill="none" stroke="none" marker-start="url(#ml)" marker-mid="url(#ml)" marker-end="url(#ml)"/>
<polyline points="401.2,157.0 401.2,157.0" fill="none" stroke="none" marker-start="url(#m1)" marker-mid="url(#m1)" marker-end="url(#m1)"/>
<polyline points="401.8,157.7 402.4,159.0" fill="none" stroke="none" marker-start="url(#m2)" marker-mid="url(#m2)" marker-end="url(#m2)"/>
<polyline points="403.0,160.7 403.0,160.7" fill="none" stroke="none" marker-start="url(#m3)" marker-mid="url(#m3)" marker-end="url(#m3)"/>
<polyline points="403.6,163.1 404.2,166.2 404.8,170.0 405.4,174.7 406.0,180.2 406.6,186.5 407.2,193.8 407.8,201.9 408.4,210.7 409.0,220.2 409.7,230.1 410.3,240.4 410.9,250.8 411.5,261.1 412.1,271.0 412.7,280.5 413.3,289.4 413.9,297.5 414.5,304.7 415.1,311.1 415.7,316.6 416.3,321.3 416.9,325.1" fill="none" stroke="none" marker-start="url(#md)" marker-mid="url(#md)" marker-end="url(#md)"/>
<polyline points="417.5,328.2 417.5,328.2" fill="none" stroke="none" marker-start="url(#m3)" marker-mid="url(#m3)" marker-end="url(#m3)"/>
<polyline points="418.1,330.6 418.7,332.4" fill="none" stroke="none" marker-start="url(#m2)" marker-mid="url(#m2)" marker-end="url(#m2)"/>
<polyline points="419.4,333.6 419.4,333.6" fill="none" stroke="none" marker-start="url(#m1)" marker-mid="url(#m1)" marker-end="url(#m1)"/>
<polyline points="420.0,334.4 420.6,334.8 421.2,334.8 421.8,334.5" fill="none" stroke="none" marker-start="url(#ml)" marker-mid="url(#ml)" marker-end="url(#ml)"/>
<polyline points="422.4,333.9 423.0,333.2 423.6,332.3" fill="none" stroke="none" marker-start="url(#m1)" marker-mid="url(#m1)" marker-end="url(#m1)"/>
<polyline points="424.2,331.2 424.8,330.1 425.4,328.8 426.0,327.5 426.6,326.2 427.2,324.8 427.8,323.4 428.4,322.0 429.1,320.6 429.7,319.2 430.3,317.8 430.9,316.4 431.5,315.0 432.1,313.6 432.7,312.3 433.3,311.0 433.9,309.7 434.5,308.4 435.1,307.2 435.7,306.0 436.3,304.8" fill="none" stroke="none" marker-start="url(#m2)" marker-mid="url(#m2)" marker-end="url(#m2)"/>
<polyline points="436.9,303.6 437.5,302.5 438.1,301.4 438.7,300.3 439.4,299.2 440.0,298.2 440.6,297.1 441.2,296.2 441.8,295.2 442.4,294.2 443.0,293.3 443.6,292.4 444.2,291.5 444.8,290.6 445.4,289.8 446.0,289.0 446.6,288.2 447.2,287.4 447.8,286.6 448.4,285.8 449.1,285.1 449.7,284.3 450.3,283.6 450.9,282.9 451.5,282.2 452.1,281.5 452.7,280.9 453.3,280.2 453.9,279.6 454.5,279.0 455.1,278.4" fill="none" stroke="none" marker-start="url(#m1)" marker-mid="url(#m1)" marker-end="url(#m1)"/>
<polyline points="455.7,277.7 456.3,277.2 456.9,276.6 457.5,276.0 458.1,275.4 458.7,274.9 459.4,274.3 460.0,273.8 460.6,273.3 461.2,272.7 461.8,272.2 462.4,271.7 463.0,271.2 463.6,270.7 464.2,270.2 464.8,269.8 465.4,269.3 466.0,268.8 466.6,268.4 467.2,267.9 467.8,267.5 468.4,267.0 469.1,266.6 469.7,266.2 470.3,265.7 470.9,265.3 471.5,264.9 472.1,264.5 472.7,264.1 473.3,263.7 473.9,263.3 474.5,262.9 475.1,262.5 475.7,262.1 476.3,261.7 476.9,261.3 477.5,261.0 478.1,260.6 478.8,260.2 479.4,259.8 480.0,259.5 480.6,259.1 481.2,258.8 481.8,258.4 482.4,258.1 483.0,257.7 483.6,257.4 484.2,257.0 484.8,256.7 485.4,256.3 486.0,256.0 486.6,255.7 487.2,255.3 487.8,255.0 488.4,254.7 489.1,254.3 489.7,254.0 490.3,253.7 490.9,253.4 491.5,253.0 492.1,252.7 492.7,252.4 493.3,252.1 493.9,251.8 494.5,251.4 495.1,251.1 495.7,250.8 496.3,250.5 496.9,250.2 497.5,249.9 498.1,249.6 498.8,249.3 499.4,248.9 500.0,248.6 500.6,248.3 501.2,248.0 501.8,247.7 502.4,247.4 503.0,247.1 503.6,246.8 504.2,246.5 504.8,246.2 505.4,245.9 506.0,245.6 506.6,245.3 507.2,245.0 507.8,244.7 508.4,244.4 509.1,244.0 509.7,243.7 510.3,243.4 510.9,243.1 511.5,242.8 512.1,242.5 512.7,242.2 513.3,241.9 513.9,241.6 514.5,241.3 515.1,241.0 515.7,240.6 516.3,240.3 516.9,240.0 517.5,239.7 518.1,239.4 518.8,239.1 519.4,238.7 520.0,238.4 520.6,238.1 521.2,237.8 521.8,237.4 522.4,237.1 523.0,236.8 523.6,236.5 524.2,236.1 524.8,235.8 525.4,235.5 526.0,235.1 526.6,234.8 527.2,234.4 527.8,234.1 528.5,233.8 529.1,233.4 529.7,233.0 530.3,232.7 530.9,232.3 531.5,232.0 532.1,231.6 532.7,231.2 533.3,230.9 533.9,230.5 534.5,230.1 535.1,229.8 535.7,229.4 536.3,229.0 536.9,228.6 537.5,228.2 538.1,227.8 538.8,227.4 539.4,227.0 540.0,226.6 540.6,226.2 541.2,225.7 541.8,225.3 542.4,224.9 543.0,224.5 543.6,224.0 544.2,223.6 544.8,223.1 545.4,222.7 546.0,222.2 546.6,221.7 547.2,221.2 547.8,220.8 548.5,220.3 549.1,219.8 549.7,219.3 550.3,218.8 550.9,218.2 551.5,217.7 552.1,217.2 552.7,216.6 553.3,216.1 553.9,215.5 554.5,214.9 555.1,214.4" fill="none" stroke="none" marker-start="url(#ml)" marker-mid="url(#ml)" marker-end="url(#ml)"/>
<polyline points="555.7,213.8 556.3,213.2 556.9,212.5 557.5,211.9 558.1,211.3 558.8,210.6 559.4,210.0 560.0,209.3 560.6,208.6 561.2,207.9 561.8,207.2 562.4,206.5 563.0,205.7 563.6,205.0 564.2,204.2 564.8,203.4 565.4,202.6 566.0,201.8 566.6,200.9 567.2,200.0 567.8,199.2 568.5,198.3 569.1,197.3 569.7,196.4 570.3,195.4 570.9,194.4 571.5,193.4 572.1,192.4 572.7,191.3 573.3,190.2 573.9,189.1" fill="none" stroke="none" marker-start="url(#m1)" marker-mid="url(#m1)" marker-end="url(#m1)"/>
<polyline points="574.5,188.0 575.1,186.8 575.7,185.6 576.3,184.4 576.9,183.2 577.5,181.9 578.2,180.6 578.8,179.3 579.4,178.0 580.0,176.6 580.6,175.3 581.2,173.9 581.8,172.5 582.4,171.1 583.0,169.6 583.6,168.2 584.2,166.8 584.8,165.4 585.4,164.1 586.0,162.8 586.6,161.5" fill="none" stroke="none" marker-start="url(#m2)" marker-mid="url(#m2)" marker-end="url(#m2)"/>
<polyline points="587.2,160.4 587.8,159.3 588.5,158.4" fill="none" stroke="none" marker-start="url(#m1)" marker-mid="url(#m1)" marker-end="url(#m1)"/>
<polyline points="589.1,157.6 589.7,157.0 590.3,156.7 590.9,156.6" fill="none" stroke="none" marker-start="url(#ml)" marker-mid="url(#ml)" marker-end="url(#ml)"/>
<polyline points="591.5,156.9 592.1,157.6" fill="none" stroke="none" marker-start="url(#m1)" marker-mid="url(#m1)" marker-end="url(#m1)"/>
<polyline points="592.7,158.7 592.7,158.7" fill="none" stroke="none" marker-start="url(#m2)" marker-mid="url(#m2)" marker-end="url(#m2)"/>
<polyline points="593.3,160.4 593.3,160.4" fill="none" stroke="none" marker-start="url(#m3)" marker-mid="url(#m3)" marker-end="url(#m3)"/>
<polyline points="593.9,162.7 594.5,165.7 595.1,169.4 595.7,173.9 596.3,179.2 596.9,185.5 597.5,192.6 598.2,200.5 598.8,209.3 599.4,218.6 600.0,228.5 600.6,238.8 601.2,249.1 601.8,259.5 602.4,269.5 603.0,279.1 603.6,288.0 604.2,296.2 604.8,303.6 605.4,310.2 606.0,315.8 606.6,320.6 607.2,324.6" fill="none" stroke="none" marker-start="url(#md)" marker-mid="url(#md)" marker-end="url(#md)"/>
<polyline points="607.8,327.8 607.8,327.8" fill="none" stroke="none" marker-start="url(#m3)" marker-mid="url(#m3)" marker-end="url(#m3)"/>
<polyline points="608.5,330.3 609.1,332.2" fill="none" stroke="none" marker-start="url(#m2)" marker-mid="url(#m2)" marker-end="url(#m2)"/>
<polyline points="609.7,333.5 609.7,333.5" fill="none" stroke="none" marker-start="url(#m1)" marker-mid="url(#m1)" marker-end="url(#m1)"/>
<polyline points="610.3,334.3 610.9,334.7 611.5,334.8 612.1,334.5" fill="none" stroke="none" marker-start="url(#ml)" marker-mid="url(#ml)" marker-end="url(#ml)"/>
<polyline points="612.7,334.0 613.3,333.3 613.9,332.4 614.5,331.4" fill="none" stroke="none" marker-start="url(#m1)" marker-mid="url(#m1)" marker-end="url(#m1)"/>
<polyline points="615.1,330.3 615.7,329.0 616.3,327.8 616.9,326.4 617.5,325.0 618.2,323.6 618.8,322.2 619.4,320.8 620.0,319.4 620.6,318.0 621.2,316.6 621.8,315.2 622.4,313.8 623.0,312.5 623.6,311.2 624.2,309.9 624.8,308.6 625.4,307.4 626.0,306.2 626.6,305.0" fill="none" stroke="none" marker-start="url(#m2)" marker-mid="url(#m2)" marker-end="url(#m2)"/>
<polyline points="627.2,303.8 627.9,302.6 628.5,301.5 629.1,300.4 629.7,299.4 630.3,298.3 630.9,297.3 631.5,296.3 632.1,295.3 632.7,294.4 633.3,293.5 633.9,292.5 634.5,291.7 635.1,290.8 635.7,289.9 636.3,289.1 636.9,288.3 637.5,287.5 638.2,286.7 638.8,285.9 639.4,285.2 640.0,284.4 640.6,283.7 641.2,283.0 641.8,282.3 642.4,281.7 643.0,281.0 643.6,280.3 644.2,279.7 644.8,279.1 645.4,278.4 646.0,277.8" fill="none" stroke="none" marker-start="url(#m1)" marker-mid="url(#m1)" marker-end="url(#m1)"/>
<polyline points="646.6,277.2 647.2,276.7 647.9,276.1 648.5,275.5 649.1,275.0 649.7,274.4 650.3,273.9 650.9,273.3 651.5,272.8 652.1,272.3 652.7,271.8 653.3,271.3 653.9,270.8 654.5,270.3 655.1,269.8 655.7,269.4 656.3,268.9 656.9,268.4 657.5,268.0 658.2,267.5 658.8,267.1 659.4,266.7 660.0,266.2 660.6,265.8 661.2,265.4 661.8,265.0 662.4,264.5 663.0,264.1 663.6,263.7 664.2,263.3 664.8,262.9 665.4,262.5 666.0,262.2 666.6,261.8 667.2,261.4 667.9,261.0 668.5,260.6 669.1,260.3 669.7,259.9 670.3,259.5 670.9,259.2 671.5,258.8 672.1,258.5 672.7,258.1 673.3,257.8 673.9,257.4 674.5,257.1 675.1,256.7 675.7,256.4 676.3,256.1 676.9,255.7 677.6,255.4 678.2,255.0 678.8,254.7 679.4,254.4 680.0,254.1 680.6,253.7 681.2,253.4 681.8,253.1 682.4,252.8 683.0,252.4 683.6,252.1 684.2,251.8 684.8,251.5 685.4,251.2 686.0,250.9 686.6,250.6 687.2,250.2 687.9,249.9 688.5,249.6 689.1,249.3 689.7,249.0 690.3,248.7 690.9,248.4 691.5,248.1 692.1,247.8 692.7,247.5 693.3,247.2 693.9,246.8 694.5,246.5 695.1,246.2 695.7,245.9 696.3,245.6 696.9,245.3 697.6,245.0 698.2,244.7 698.8,244.4 699.4,244.1 700.0,243.8 700.6,243.5 701.2,243.2 701.8,242.9 702.4,242.6 703.0,242.2 703.6,241.9 704.2,241.6 704.8,241.3 705.4,241.0 706.0,240.7 706.6,240.4 707.2,240.1 707.9,239.7 708.5,239.4 709.1,239.1 709.7,238.8 710.3,238.5 710.9,238.2 711.5,237.8 712.1,237.5 712.7,237.2 713.3,236.8 713.9,236.5 714.5,236.2 715.1,235.9 715.7,235.5 716.3,235.2 716.9,234.8 717.6,234.5 718.2,234.2 718.8,233.8 719.4,233.5 720.0,233.1 720.6,232.8 721.2,232.4 721.8,232.0 722.4,231.7 723.0,231.3 723.6,230.9 724.2,230.6 724.8,230.2 725.4,229.8 726.0,229.4 726.6,229.0 727.3,228.7 727.9,228.3 728.5,227.9 729.1,227.5 729.7,227.1 730.3,226.6 730.9,226.2 731.5,225.8 732.1,225.4 732.7,225.0 733.3,224.5 733.9,224.1 734.5,223.6 735.1,223.2 735.7,222.7 736.3,222.3 736.9,221.8 737.6,221.3 738.2,220.8 738.8,220.4 739.4,219.9 740.0,219.4 740.6,218.8 741.2,218.3 741.8,217.8 742.4,217.3 743.0,216.7 743.6,216.2 744.2,215.6 744.8,215.0 745.4,214.4" fill="none" stroke="none" marker-start="url(#ml)" marker-mid="url(#ml)" marker-end="url(#ml)"/>
<polyline points="746.0,213.9 746.6,213.3 747.3,212.6 747.9,212.0 748.5,211.4 749.1,210.7 749.7,210.1 750.3,209.4 750.9,208.7 751.5,208.0 752.1,207.3 752.7,206.6 753.3,205.8 753.9,205.1 754.5,204.3 755.1,203.5 755.7,202.7 756.3,201.9 757.0,201.0 757.6,200.2 758.2,199.3 758.8,198.4 759.4,197.5 760.0,196.5 760.6,195.6 761.2,194.6 761.8,193.6 762.4,192.5 763.0,191.5 763.6,190.4 764.2,189.3" fill="none" stroke="none" marker-start="url(#m1)" marker-mid="url(#m1)" marker-end="url(#m1)"/>
<polyline points="764.8,188.2 765.4,187.0 766.0,185.8 766.6,184.6 767.3,183.4 767.9,182.1 768.5,180.9 769.1,179.5 769.7,178.2 770.3,176.9 770.9,175.5 771.5,174.1 772.1,172.7 772.7,171.3 773.3,169.9 773.9,168.5 774.5,167.1 775.1,165.7 775.7,164.3 776.3,163.0 777.0,161.7" fill="none" stroke="none" marker-start="url(#m2)" marker-mid="url(#m2)" marker-end="url(#m2)"/>
<polyline points="777.6,160.5 778.2,159.5 778.8,158.5 779.4,157.7" fill="none" stroke="none" marker-start="url(#m1)" marker-mid="url(#m1)" marker-end="url(#m1)"/>
<polyline points="780.0,157.1 780.6,156.7 781.2,156.6" fill="none" stroke="none" marker-start="url(#ml)" marker-mid="url(#ml)" marker-end="url(#ml)"/>
<polyline points="781.8,156.8 782.4,157.5" fill="none" stroke="none" marker-start="url(#m1)" marker-mid="url(#m1)" marker-end="url(#m1)"/>
<polyline points="783.0,158.5 783.0,158.5" fill="none" stroke="none" marker-start="url(#m2)" marker-mid="url(#m2)" marker-end="url(#m2)"/>
<polyline points="783.6,160.1 784.2,162.3" fill="none" stroke="none" marker-start="url(#m3)" marker-mid="url(#m3)" marker-end="url(#m3)"/>
<polyline points="784.8,165.1 785.4,168.7 786.0,173.1 786.6,178.3 787.3,184.4 787.9,191.4 788.5,199.2 789.1,207.8 789.7,217.1 790.3,226.9 790.9,237.1 791.5,247.5 792.1,257.8 792.7,267.9 793.3,277.6 793.9,286.6 794.5,295.0 795.1,302.5 795.7,309.2 796.3,315.0 797.0,319.9 797.6,324.0" fill="none" stroke="none" marker-start="url(#md)" marker-mid="url(#md)" marker-end="url(#md)"/>
<polyline points="798.2,327.3 798.8,329.9" fill="none" stroke="none" marker-start="url(#m3)" marker-mid="url(#m3)" marker-end="url(#m3)"/>
<polyline points="799.4,331.9 799.4,331.9" fill="none" stroke="none" marker-start="url(#m2)" marker-mid="url(#m2)" marker-end="url(#m2)"/>
<polyline points="800.0,333.3 800.0,333.3" fill="none" stroke="none" marker-start="url(#m1)" marker-mid="url(#m1)" marker-end="url(#m1)"/>
<polyline points="800.6,334.2 801.2,334.7 801.8,334.8 802.4,334.6" fill="none" stroke="none" marker-start="url(#ml)" marker-mid="url(#ml)" marker-end="url(#ml)"/>
<polyline points="803.0,334.1 803.6,333.4 804.2,332.6 804.8,331.6" fill="none" stroke="none" marker-start="url(#m1)" marker-mid="url(#m1)" marker-end="url(#m1)"/>
<polyline points="805.4,330.5 806.0,329.2 806.7,328.0 807.3,326.6 807.9,325.3 808.5,323.9 809.1,322.5 809.7,321.0 810.3,319.6 810.9,318.2 811.5,316.8 812.1,315.4 812.7,314.1 813.3,312.7 813.9,311.4 814.5,310.1 815.1,308.8 815.7,307.6 816.3,306.3 817.0,305.2" fill="none" stroke="none" marker-start="url(#m2)" marker-mid="url(#m2)" marker-end="url(#m2)"/>
<polyline points="817.6,304.0 818.2,302.8 818.8,301.7 819.4,300.6 820.0,299.5 820.6,298.5 821.2,297.5 821.8,296.5 822.4,295.5 823.0,294.5 823.6,293.6 824.2,292.7 824.8,291.8 825.4,290.9 826.0,290.1 826.7,289.2 827.3,288.4 827.9,287.6 828.5,286.8 829.1,286.1 829.7,285.3 830.3,284.6 830.9,283.8 831.5,283.1 832.1,282.4 832.7,281.8 833.3,281.1 833.9,280.4 834.5,279.8 835.1,279.2 835.7,278.5 836.3,277.9" fill="none" stroke="none" marker-start="url(#m1)" marker-mid="url(#m1)" marker-end="url(#m1)"/>
<polyline points="837.0,277.3 837.6,276.8 838.2,276.2 838.8,275.6 839.4,275.0 840.0,274.5 840.6,274.0 841.2,273.4 841.8,272.9 842.4,272.4 843.0,271.9 843.6,271.4 844.2,270.9 844.8,270.4 845.4,269.9 846.0,269.4 846.7,269.0 847.3,268.5 847.9,268.1 848.5,267.6 849.1,267.2 849.7,266.7 850.3,266.3 850.9,265.9 851.5,265.4 852.1,265.0 852.7,264.6 853.3,264.2 853.9,263.8 854.5,263.4 855.1,263.0 855.7,262.6 856.4,262.2 857.0,261.8 857.6,261.5 858.2,261.1 858.8,260.7 859.4,260.3 860.0,260.0 860.6,259.6 861.2,259.2 861.8,258.9 862.4,258.5 863.0,258.2 863.6,257.8 864.2,257.5 864.8,257.1 865.4,256.8 866.0,256.4 866.7,256.1 867.3,255.8 867.9,255.4 868.5,255.1 869.1,254.8 869.7,254.4 870.3,254.1 870.9,253.8 871.5,253.5 872.1,253.1 872.7,252.8 873.3,252.5 873.9,252.2 874.5,251.9 875.1,251.5 875.7,251.2 876.4,250.9 877.0,250.6 877.6,250.3 878.2,250.0 878.8,249.7 879.4,249.4 880.0,249.0 880.6,248.7 881.2,248.4 881.8,248.1 882.4,247.8 883.0,247.5 883.6,247.2 884.2,246.9 884.8,246.6 885.4,246.3 886.0,246.0 886.7,245.7 887.3,245.4 887.9,245.1 888.5,244.8 889.1,244.4 889.7,244.1 890.3,243.8 890.9,243.5 891.5,243.2 892.1,242.9 892.7,242.6 893.3,242.3 893.9,242.0 894.5,241.7 895.1,241.4 895.7,241.1 896.4,240.7 897.0,240.4 897.6,240.1 898.2,239.8 898.8,239.5 899.4,239.2 900.0,238.8 900.6,238.5 901.2,238.2 901.8,237.9 902.4,237.6 903.0,237.2 903.6,236.9 904.2,236.6 904.8,236.2 905.4,235.9 906.1,235.6 906.7,235.2 907.3,234.9 907.9,234.6 908.5,234.2 909.1,233.9 909.7,233.5 910.3,233.2 910.9,232.8 911.5,232.5 912.1,232.1 912.7,231.7 913.3,231.4 913.9,231.0 914.5,230.6 915.1,230.3 915.7,229.9 916.4,229.5 917.0,229.1 917.6,228.7 918.2,228.3 918.8,227.9 919.4,227.5 920.0,227.1 920.6,226.7 921.2,226.3 921.8,225.9 922.4,225.5 923.0,225.0 923.6,224.6 924.2,224.2 924.8,223.7 925.4,223.3 926.1,222.8 926.7,222.3 927.3,221.9 927.9,221.4 928.5,220.9 929.1,220.4 929.7,219.9 930.3,219.4 930.9,218.9 931.5,218.4 932.1,217.9 932.7,217.3 933.3,216.8 933.9,216.3 934.5,215.7 935.1,215.1 935.7,214.5" fill="none" stroke="none" marker-start="url(#ml)" marker-mid="url(#ml)" marker-end="url(#ml)"/>
<polyline points="936.4,214.0 937.0,213.4 937.6,212.7 938.2,212.1 938.8,211.5 939.4,210.8 940.0,210.2 940.6,209.5 941.2,208.8 941.8,208.1 942.4,207.4 943.0,206.7 943.6,206.0 944.2,205.2 944.8,204.4 945.4,203.6 946.1,202.8 946.7,202.0 947.3,201.2 947.9,200.3 948.5,199.4 949.1,198.5" fill="none" stroke="none" marker-start="url(#m1)" marker-mid="url(#m1)" marker-end="url(#m1)"/>
<polyline points="949.7,197.6 949.7,197.6" fill="none" stroke="none" marker-start="url(#md)" marker-mid="url(#md)" marker-end="url(#md)"/>
<polyline points="101.2,308.7 102.4,306.1 103.6,303.5 104.8,300.7 106.0,297.9 107.2,294.9 108.4,291.9 109.6,288.8 110.8,285.7 112.1,282.5 113.3,279.2 114.5,275.9 115.7,272.5 116.9,269.1 118.1,265.6 119.3,262.1 120.5,258.6 121.8,255.1 123.0,251.5 124.2,248.0 125.4,244.4 126.6,240.8 127.8,237.3 129.0,233.7 130.2,230.2 131.5,226.7 132.7,223.3 133.9,219.8 135.1,216.4 136.3,213.1 137.5,209.8 138.7,206.6 139.9,203.4 141.2,200.3 142.4,197.3 143.6,194.3 144.8,191.5 146.0,188.7 147.2,186.0 148.4,183.4 149.6,180.9 150.9,178.5 152.1,176.2 153.3,174.0 154.5,172.0 155.7,170.0 156.9,168.2 158.1,166.5 159.3,164.9 160.5,163.5 161.8,162.2 163.0,161.0 164.2,160.0 165.4,159.1 166.6,158.3 167.8,157.7 169.0,157.2 170.2,156.9 171.5,156.7 172.7,156.6 173.9,156.7 175.1,156.9 176.3,157.3 177.5,157.8 178.7,158.4 179.9,159.2 181.2,160.2 182.4,161.2 183.6,162.4 184.8,163.8 186.0,165.2 187.2,166.8 188.4,168.6 189.6,170.4 190.9,172.4 192.1,174.4 193.3,176.6 194.5,178.9 195.7,181.4 196.9,183.9 198.1,186.5 199.3,189.2 200.6,192.0 201.8,194.9 203.0,197.8 204.2,200.9 205.4,204.0 206.6,207.2 207.8,210.4 209.0,213.7 210.2,217.1 211.5,220.5 212.7,223.9 213.9,227.4 215.1,230.9 216.3,234.4 217.5,238.0 218.7,241.5 219.9,245.1 221.2,248.6 222.4,252.2 223.6,255.7 224.8,259.3 226.0,262.8 227.2,266.3 228.4,269.7 229.6,273.1 230.9,276.5 232.1,279.8 233.3,283.1 234.5,286.3 235.7,289.4 236.9,292.5 238.1,295.5 239.3,298.4 240.6,301.2 241.8,304.0 243.0,306.6 244.2,309.2 245.4,311.6 246.6,314.0 247.8,316.2 249.0,318.3 250.3,320.3 251.5,322.2 252.7,324.0 253.9,325.6 255.1,327.1 256.3,328.5 257.5,329.8 258.7,330.9 259.9,331.9 261.2,332.7 262.4,333.4 263.6,334.0 264.8,334.4 266.0,334.6 267.2,334.8 268.4,334.8 269.6,334.6 270.9,334.3 272.1,333.9 273.3,333.3 274.5,332.6 275.7,331.8 276.9,330.8 278.1,329.6 279.3,328.4 280.6,327.0 281.8,325.4 283.0,323.8 284.2,322.0 285.4,320.1 286.6,318.1 287.8,316.0 289.0,313.7 290.3,311.4 291.5,308.9 292.7,306.3 293.9,303.7 295.1,300.9 296.3,298.1 297.5,295.2 298.7,292.2 300.0,289.1 301.2,285.9 302.4,282.7 303.6,279.5 304.8,276.1 306.0,272.8 307.2,269.3 308.4,265.9 309.6,262.4 310.9,258.9 312.1,255.4 313.3,251.8 314.5,248.2 315.7,244.7 316.9,241.1 318.1,237.6 319.3,234.0 320.6,230.5 321.8,227.0 323.0,223.5 324.2,220.1 325.4,216.7 326.6,213.4 327.8,210.1 329.0,206.8 330.3,203.7 331.5,200.6 332.7,197.5 333.9,194.6 335.1,191.7 336.3,188.9 337.5,186.2 338.7,183.6 340.0,181.1 341.2,178.7 342.4,176.4 343.6,174.2 344.8,172.1 346.0,170.2 347.2,168.4 348.4,166.6 349.7,165.1 350.9,163.6 352.1,162.3 353.3,161.1 354.5,160.1 355.7,159.1 356.9,158.4 358.1,157.7 359.3,157.2 360.6,156.9 361.8,156.7 363.0,156.6 364.2,156.7 365.4,156.9 366.6,157.3 367.8,157.8 369.0,158.4 370.3,159.2 371.5,160.1 372.7,161.1 373.9,162.3 375.1,163.7 376.3,165.1 377.5,166.7 378.7,168.4 380.0,170.2 381.2,172.2 382.4,174.3 383.6,176.5 384.8,178.8 386.0,181.2 387.2,183.7 388.4,186.3 389.7,189.0 390.9,191.8 392.1,194.6 393.3,197.6 394.5,200.6 395.7,203.8 396.9,206.9 398.1,210.2 399.4,213.5 400.6,216.8 401.8,220.2 403.0,223.6 404.2,227.1 405.4,230.6 406.6,234.1 407.8,237.7 409.0,241.2 410.3,244.8 411.5,248.4 412.7,251.9 413.9,255.5 415.1,259.0 416.3,262.5 417.5,266.0 418.7,269.4 420.0,272.9 421.2,276.2 422.4,279.6 423.6,282.8 424.8,286.0 426.0,289.2 427.2,292.3 428.4,295.3 429.7,298.2 430.9,301.0 432.1,303.8 433.3,306.4 434.5,309.0 435.7,311.4 436.9,313.8 438.1,316.0 439.4,318.2 440.6,320.2 441.8,322.1 443.0,323.8 444.2,325.5 445.4,327.0 446.6,328.4 447.8,329.7 449.1,330.8 450.3,331.8 451.5,332.6 452.7,333.3 453.9,333.9 455.1,334.3 456.3,334.6 457.5,334.8 458.7,334.8 460.0,334.6 461.2,334.4 462.4,333.9 463.6,333.4 464.8,332.7 466.0,331.8 467.2,330.8 468.4,329.7 469.7,328.5 470.9,327.1 472.1,325.6 473.3,323.9 474.5,322.2 475.7,320.3 476.9,318.3 478.1,316.1 479.4,313.9 480.6,311.6 481.8,309.1 483.0,306.5 484.2,303.9 485.4,301.2 486.6,298.3 487.8,295.4 489.1,292.4 490.3,289.3 491.5,286.2 492.7,283.0 493.9,279.7 495.1,276.4 496.3,273.0 497.5,269.6 498.8,266.2 500.0,262.7 501.2,259.2 502.4,255.6 503.6,252.1 504.8,248.5 506.0,245.0 507.2,241.4 508.4,237.8 509.7,234.3 510.9,230.8 512.1,227.3 513.3,223.8 514.5,220.4 515.7,217.0 516.9,213.6 518.1,210.3 519.4,207.1 520.6,203.9 521.8,200.8 523.0,197.8 524.2,194.8 525.4,191.9 526.6,189.1 527.8,186.4 529.1,183.8 530.3,181.3 531.5,178.9 532.7,176.6 533.9,174.4 535.1,172.3 536.3,170.3 537.5,168.5 538.8,166.8 540.0,165.2 541.2,163.7 542.4,162.4 543.6,161.2 544.8,160.1 546.0,159.2 547.2,158.4 548.5,157.8 549.7,157.3 550.9,156.9 552.1,156.7 553.3,156.6 554.5,156.7 555.7,156.9 556.9,157.2 558.1,157.7 559.4,158.3 560.6,159.1 561.8,160.0 563.0,161.1 564.2,162.2 565.4,163.5 566.6,165.0 567.8,166.6 569.1,168.3 570.3,170.1 571.5,172.0 572.7,174.1 573.9,176.3 575.1,178.6 576.3,181.0 577.5,183.5 578.8,186.1 580.0,188.8 581.2,191.5 582.4,194.4 583.6,197.4 584.8,200.4 586.0,203.5 587.2,206.7 588.5,209.9 589.7,213.2 590.9,216.5 592.1,219.9 593.3,223.4 594.5,226.8 595.7,230.3 596.9,233.9 598.2,237.4 599.4,240.9 600.6,244.5 601.8,248.1 603.0,251.6 604.2,255.2 605.4,258.7 606.6,262.2 607.8,265.7 609.1,269.2 610.3,272.6 611.5,276.0 612.7,279.3 613.9,282.6 615.1,285.8 616.3,288.9 617.5,292.0 618.8,295.0 620.0,297.9 621.2,300.8 622.4,303.5 623.6,306.2 624.8,308.8 626.0,311.2 627.2,313.6 628.5,315.9 629.7,318.0 630.9,320.0 632.1,321.9 633.3,323.7 634.5,325.4 635.7,326.9 636.9,328.3 638.2,329.6 639.4,330.7 640.6,331.7 641.8,332.6 643.0,333.3 644.2,333.9 645.4,334.3 646.6,334.6 647.9,334.8 649.1,334.8 650.3,334.7 651.5,334.4 652.7,334.0 653.9,333.4 655.1,332.7 656.3,331.9 657.5,330.9 658.8,329.8 660.0,328.6 661.2,327.2 662.4,325.7 663.6,324.1 664.8,322.3 666.0,320.4 667.2,318.4 668.5,316.3 669.7,314.1 670.9,311.7 672.1,309.3 673.3,306.8 674.5,304.1 675.7,301.4 676.9,298.5 678.2,295.6 679.4,292.6 680.6,289.6 681.8,286.4 683.0,283.2 684.2,280.0 685.4,276.7 686.6,273.3 687.9,269.9 689.1,266.4 690.3,263.0 691.5,259.5 692.7,255.9 693.9,252.4 695.1,248.8 696.3,245.3 697.6,241.7 698.8,238.1 700.0,234.6 701.2,231.1 702.4,227.6 703.6,224.1 704.8,220.6 706.0,217.2 707.2,213.9 708.5,210.6 709.7,207.3 710.9,204.2 712.1,201.0 713.3,198.0 714.5,195.0 715.7,192.1 716.9,189.3 718.2,186.6 719.4,184.0 720.6,181.5 721.8,179.1 723.0,176.7 724.2,174.5 725.4,172.5 726.6,170.5 727.9,168.6 729.1,166.9 730.3,165.3 731.5,163.8 732.7,162.5 733.9,161.3 735.1,160.2 736.3,159.3 737.6,158.5 738.8,157.8 740.0,157.3 741.2,156.9 742.4,156.7 743.6,156.6 744.8,156.7 746.0,156.9 747.3,157.2 748.5,157.7 749.7,158.3 750.9,159.0 752.1,159.9 753.3,161.0 754.5,162.1 755.7,163.4 757.0,164.9 758.2,166.4 759.4,168.1 760.6,169.9 761.8,171.9 763.0,173.9 764.2,176.1 765.4,178.4 766.6,180.8 767.9,183.3 769.1,185.9 770.3,188.5 771.5,191.3 772.7,194.2 773.9,197.1 775.1,200.2 776.3,203.3 777.6,206.4 778.8,209.7 780.0,212.9 781.2,216.3 782.4,219.7 783.6,223.1 784.8,226.6 786.0,230.1 787.3,233.6 788.5,237.1 789.7,240.7 790.9,244.2 792.1,247.8 793.3,251.3 794.5,254.9 795.7,258.4 797.0,262.0 798.2,265.4 799.4,268.9 800.6,272.3 801.8,275.7 803.0,279.0 804.2,282.3 805.4,285.5 806.7,288.7 807.9,291.8 809.1,294.8 810.3,297.7 811.5,300.6 812.7,303.3 813.9,306.0 815.1,308.6 816.3,311.1 817.6,313.4 818.8,315.7 820.0,317.8 821.2,319.9 822.4,321.8 823.6,323.6 824.8,325.2 826.0,326.8 827.3,328.2 828.5,329.5 829.7,330.6 830.9,331.6 832.1,332.5 833.3,333.2 834.5,333.8 835.7,334.3 837.0,334.6 838.2,334.8 839.4,334.8 840.6,334.7 841.8,334.4 843.0,334.0 844.2,333.5 845.4,332.8 846.7,332.0 847.9,331.0 849.1,329.9 850.3,328.7 851.5,327.3 852.7,325.8 853.9,324.2 855.1,322.5 856.4,320.6 857.6,318.6 858.8,316.5 860.0,314.3 861.2,311.9 862.4,309.5 863.6,307.0 864.8,304.3 866.0,301.6 867.3,298.8 868.5,295.9 869.7,292.9 870.9,289.8 872.1,286.7 873.3,283.5 874.5,280.2 875.7,276.9 877.0,273.6 878.2,270.2 879.4,266.7 880.6,263.2 881.8,259.7 883.0,256.2 884.2,252.7 885.4,249.1 886.7,245.5 887.9,242.0 889.1,238.4 890.3,234.9 891.5,231.3 892.7,227.8 893.9,224.4 895.1,220.9 896.4,217.5 897.6,214.2 898.8,210.9 900.0,207.6 901.2,204.4 902.4,201.3 903.6,198.2 904.8,195.3 906.1,192.4 907.3,189.5 908.5,186.8 909.7,184.2 910.9,181.7 912.1,179.2 913.3,176.9 914.5,174.7 915.7,172.6 917.0,170.6 918.2,168.8 919.4,167.0 920.6,165.4 921.8,164.0 923.0,162.6 924.2,161.4 925.4,160.3 926.7,159.4 927.9,158.5 929.1,157.9 930.3,157.3 931.5,157.0 932.7,156.7 933.9,156.6 935.1,156.6 936.4,156.8 937.6,157.2 938.8,157.6 940.0,158.2 941.2,159.0 942.4,159.9 943.6,160.9 944.8,162.0 946.1,163.3 947.3,164.8 948.5,166.3 949.7,168.0" fill="none" stroke="#0000ff" stroke-width="3.3" stroke-linejoin="round"/>
<polyline points="101.2,585.8 102.4,583.1 103.6,580.1 104.8,576.7 106.0,572.8 107.2,568.3 108.4,563.2 109.6,557.3 110.8,550.6 112.1,543.0 113.3,534.2 114.5,524.3 115.7,513.2 116.9,500.9 118.1,487.8 119.3,474.2 120.5,461.0 121.8,449.1 123.0,440.0 124.2,434.7 125.4,434.1 126.6,438.2 127.8,446.4 129.0,457.6 130.2,470.5 131.5,484.1 132.7,497.5 133.9,510.0 135.1,521.4 136.3,531.7 137.5,540.7 138.7,548.7 139.9,555.6 141.2,561.7 142.4,567.0 143.6,571.6 144.8,575.7 146.0,579.2 147.2,582.4 148.4,585.1 149.6,587.6 150.9,589.8 152.1,591.7 153.3,593.4 154.5,595.0 155.7,596.4 156.9,597.7 158.1,598.8 159.3,599.9 160.5,600.8 161.8,601.7 163.0,602.4 164.2,603.2 165.4,603.8 166.6,604.4 167.8,605.0 169.0,605.5 170.2,606.0 171.5,606.4 172.7,606.8 173.9,607.2 175.1,607.6 176.3,607.9 177.5,608.2 178.7,608.5 179.9,608.7 181.2,609.0 182.4,609.2 183.6,609.4 184.8,609.6 186.0,609.8 187.2,610.0 188.4,610.2 189.6,610.3 190.9,610.5 192.1,610.6 193.3,610.7 194.5,610.8 195.7,610.9 196.9,611.0 198.1,611.1 199.3,611.2 200.6,611.3 201.8,611.4 203.0,611.5 204.2,611.5 205.4,611.6 206.6,611.6 207.8,611.7 209.0,611.7 210.2,611.8 211.5,611.8 212.7,611.8 213.9,611.8 215.1,611.9 216.3,611.9 217.5,611.9 218.7,611.9 219.9,611.9 221.2,611.9 222.4,611.9 223.6,611.9 224.8,611.9 226.0,611.8 227.2,611.8 228.4,611.8 229.6,611.8 230.9,611.7 232.1,611.7 233.3,611.6 234.5,611.6 235.7,611.5 236.9,611.5 238.1,611.4 239.3,611.3 240.6,611.3 241.8,611.2 243.0,611.1 244.2,611.0 245.4,610.9 246.6,610.8 247.8,610.6 249.0,610.5 250.3,610.4 251.5,610.2 252.7,610.1 253.9,609.9 255.1,609.7 256.3,609.5 257.5,609.3 258.7,609.1 259.9,608.8 261.2,608.6 262.4,608.3 263.6,608.0 264.8,607.7 266.0,607.3 267.2,607.0 268.4,606.6 269.6,606.1 270.9,605.7 272.1,605.2 273.3,604.6 274.5,604.1 275.7,603.4 276.9,602.7 278.1,601.9 279.3,601.1 280.6,600.2 281.8,599.2 283.0,598.1 284.2,596.9 285.4,595.5 286.6,594.0 287.8,592.3 289.0,590.5 290.3,588.4 291.5,586.0 292.7,583.4 293.9,580.4 295.1,577.0 296.3,573.1 297.5,568.7 298.7,563.6 300.0,557.8 301.2,551.2 302.4,543.6 303.6,535.0 304.8,525.1 306.0,514.1 307.2,501.9 308.4,488.8 309.6,475.3 310.9,462.0 312.1,450.0 313.3,440.6 314.5,435.0 315.7,434.0 316.9,437.7 318.1,445.6 319.3,456.6 320.6,469.5 321.8,483.0 323.0,496.4 324.2,509.0 325.4,520.6 326.6,530.9 327.8,540.0 329.0,548.1 330.3,555.1 331.5,561.2 332.7,566.6 333.9,571.3 335.1,575.4 336.3,579.0 337.5,582.1 338.7,584.9 340.0,587.4 341.2,589.6 342.4,591.5 343.6,593.3 344.8,594.9 346.0,596.3 347.2,597.6 348.4,598.7 349.7,599.8 350.9,600.7 352.1,601.6 353.3,602.4 354.5,603.1 355.7,603.8 356.9,604.4 358.1,605.0 359.3,605.5 360.6,606.0 361.8,606.4 363.0,606.8 364.2,607.2 365.4,607.5 366.6,607.9 367.8,608.2 369.0,608.5 370.3,608.7 371.5,609.0 372.7,609.2 373.9,609.4 375.1,609.6 376.3,609.8 377.5,610.0 378.7,610.2 380.0,610.3 381.2,610.5 382.4,610.6 383.6,610.7 384.8,610.8 386.0,610.9 387.2,611.0 388.4,611.1 389.7,611.2 390.9,611.3 392.1,611.4 393.3,611.4 394.5,611.5 395.7,611.6 396.9,611.6 398.1,611.7 399.4,611.7 400.6,611.8 401.8,611.8 403.0,611.8 404.2,611.8 405.4,611.9 406.6,611.9 407.8,611.9 409.0,611.9 410.3,611.9 411.5,611.9 412.7,611.9 413.9,611.9 415.1,611.9 416.3,611.8 417.5,611.8 418.7,611.8 420.0,611.8 421.2,611.7 422.4,611.7 423.6,611.6 424.8,611.6 426.0,611.5 427.2,611.5 428.4,611.4 429.7,611.3 430.9,611.3 432.1,611.2 433.3,611.1 434.5,611.0 435.7,610.9 436.9,610.8 438.1,610.7 439.4,610.5 440.6,610.4 441.8,610.2 443.0,610.1 444.2,609.9 445.4,609.7 446.6,609.5 447.8,609.3 449.1,609.1 450.3,608.9 451.5,608.6 452.7,608.3 453.9,608.0 455.1,607.7 456.3,607.4 457.5,607.0 458.7,606.6 460.0,606.2 461.2,605.7 462.4,605.2 463.6,604.7 464.8,604.1 466.0,603.5 467.2,602.8 468.4,602.0 469.7,601.2 470.9,600.3 472.1,599.3 473.3,598.2 474.5,597.0 475.7,595.6 476.9,594.1 478.1,592.5 479.4,590.6 480.6,588.5 481.8,586.2 483.0,583.6 484.2,580.6 485.4,577.2 486.6,573.4 487.8,569.0 489.1,564.0 490.3,558.3 491.5,551.8 492.7,544.3 493.9,535.7 495.1,526.0 496.3,515.0 497.5,503.0 498.8,489.9 500.0,476.4 501.2,463.0 502.4,450.9 503.6,441.2 504.8,435.3 506.0,433.9 507.2,437.2 508.4,444.8 509.7,455.6 510.9,468.4 512.1,482.0 513.3,495.4 514.5,508.1 515.7,519.7 516.9,530.1 518.1,539.4 519.4,547.5 520.6,554.6 521.8,560.8 523.0,566.2 524.2,570.9 525.4,575.0 526.6,578.7 527.8,581.9 529.1,584.7 530.3,587.2 531.5,589.4 532.7,591.4 533.9,593.2 535.1,594.8 536.3,596.2 537.5,597.5 538.8,598.6 540.0,599.7 541.2,600.7 542.4,601.5 543.6,602.3 544.8,603.1 546.0,603.7 547.2,604.3 548.5,604.9 549.7,605.4 550.9,605.9 552.1,606.4 553.3,606.8 554.5,607.2 555.7,607.5 556.9,607.8 558.1,608.2 559.4,608.4 560.6,608.7 561.8,609.0 563.0,609.2 564.2,609.4 565.4,609.6 566.6,609.8 567.8,610.0 569.1,610.1 570.3,610.3 571.5,610.4 572.7,610.6 573.9,610.7 575.1,610.8 576.3,610.9 577.5,611.0 578.8,611.1 580.0,611.2 581.2,611.3 582.4,611.4 583.6,611.4 584.8,611.5 586.0,611.6 587.2,611.6 588.5,611.7 589.7,611.7 590.9,611.7 592.1,611.8 593.3,611.8 594.5,611.8 595.7,611.9 596.9,611.9 598.2,611.9 599.4,611.9 600.6,611.9 601.8,611.9 603.0,611.9 604.2,611.9 605.4,611.9 606.6,611.9 607.8,611.8 609.1,611.8 610.3,611.8 611.5,611.7 612.7,611.7 613.9,611.7 615.1,611.6 616.3,611.5 617.5,611.5 618.8,611.4 620.0,611.3 621.2,611.3 622.4,611.2 623.6,611.1 624.8,611.0 626.0,610.9 627.2,610.8 628.5,610.7 629.7,610.5 630.9,610.4 632.1,610.2 633.3,610.1 634.5,609.9 635.7,609.7 636.9,609.5 638.2,609.3 639.4,609.1 640.6,608.9 641.8,608.6 643.0,608.3 644.2,608.1 645.4,607.7 646.6,607.4 647.9,607.0 649.1,606.6 650.3,606.2 651.5,605.8 652.7,605.3 653.9,604.7 655.1,604.1 656.3,603.5 657.5,602.8 658.8,602.1 660.0,601.2 661.2,600.3 662.4,599.4 663.6,598.3 664.8,597.1 666.0,595.7 667.2,594.3 668.5,592.6 669.7,590.8 670.9,588.7 672.1,586.4 673.3,583.8 674.5,580.9 675.7,577.5 676.9,573.7 678.2,569.4 679.4,564.5 680.6,558.8 681.8,552.3 683.0,544.9 684.2,536.4 685.4,526.8 686.6,515.9 687.9,504.0 689.1,491.0 690.3,477.4 691.5,464.0 692.7,451.8 693.9,441.9 695.1,435.6 696.3,433.8 697.6,436.8 698.8,444.1 700.0,454.7 701.2,467.4 702.4,480.9 703.6,494.3 704.8,507.1 706.0,518.8 707.2,529.3 708.5,538.7 709.7,546.9 710.9,554.0 712.1,560.3 713.3,565.8 714.5,570.6 715.7,574.7 716.9,578.4 718.2,581.6 719.4,584.5 720.6,587.0 721.8,589.3 723.0,591.3 724.2,593.0 725.4,594.6 726.6,596.1 727.9,597.4 729.1,598.6 730.3,599.6 731.5,600.6 732.7,601.5 733.9,602.3 735.1,603.0 736.3,603.7 737.6,604.3 738.8,604.9 740.0,605.4 741.2,605.9 742.4,606.3 743.6,606.7 744.8,607.1 746.0,607.5 747.3,607.8 748.5,608.1 749.7,608.4 750.9,608.7 752.1,608.9 753.3,609.2 754.5,609.4 755.7,609.6 757.0,609.8 758.2,610.0 759.4,610.1 760.6,610.3 761.8,610.4 763.0,610.6 764.2,610.7 765.4,610.8 766.6,610.9 767.9,611.0 769.1,611.1 770.3,611.2 771.5,611.3 772.7,611.4 773.9,611.4 775.1,611.5 776.3,611.6 777.6,611.6 778.8,611.7 780.0,611.7 781.2,611.7 782.4,611.8 783.6,611.8 784.8,611.8 786.0,611.9 787.3,611.9 788.5,611.9 789.7,611.9 790.9,611.9 792.1,611.9 793.3,611.9 794.5,611.9 795.7,611.9 797.0,611.9 798.2,611.8 799.4,611.8 800.6,611.8 801.8,611.7 803.0,611.7 804.2,611.7 805.4,611.6 806.7,611.6 807.9,611.5 809.1,611.4 810.3,611.4 811.5,611.3 812.7,611.2 813.9,611.1 815.1,611.0 816.3,610.9 817.6,610.8 818.8,610.7 820.0,610.5 821.2,610.4 822.4,610.3 823.6,610.1 824.8,609.9 826.0,609.8 827.3,609.6 828.5,609.4 829.7,609.1 830.9,608.9 832.1,608.6 833.3,608.4 834.5,608.1 835.7,607.8 837.0,607.4 838.2,607.1 839.4,606.7 840.6,606.3 841.8,605.8 843.0,605.3 844.2,604.8 845.4,604.2 846.7,603.6 847.9,602.9 849.1,602.1 850.3,601.3 851.5,600.4 852.7,599.4 853.9,598.4 855.1,597.2 856.4,595.8 857.6,594.4 858.8,592.7 860.0,590.9 861.2,588.9 862.4,586.6 863.6,584.0 864.8,581.1 866.0,577.8 867.3,574.1 868.5,569.8 869.7,564.9 870.9,559.3 872.1,552.9 873.3,545.5 874.5,537.1 875.7,527.6 877.0,516.9 878.2,504.9 879.4,492.0 880.6,478.5 881.8,465.1 883.0,452.7 884.2,442.6 885.4,435.9 886.7,433.8 887.9,436.4 889.1,443.4 890.3,453.8 891.5,466.3 892.7,479.8 893.9,493.3 895.1,506.1 896.4,517.9 897.6,528.5 898.8,538.0 900.0,546.3 901.2,553.5 902.4,559.8 903.6,565.4 904.8,570.2 906.1,574.4 907.3,578.1 908.5,581.4 909.7,584.3 910.9,586.8 912.1,589.1 913.3,591.1 914.5,592.9 915.7,594.5 917.0,596.0 918.2,597.3 919.4,598.5 920.6,599.5 921.8,600.5 923.0,601.4 924.2,602.2 925.4,602.9 926.7,603.6 927.9,604.3 929.1,604.8 930.3,605.4 931.5,605.8 932.7,606.3 933.9,606.7 935.1,607.1 936.4,607.5 937.6,607.8 938.8,608.1 940.0,608.4 941.2,608.7 942.4,608.9 943.6,609.2 944.8,609.4 946.1,609.6 947.3,609.8 948.5,609.9 949.7,610.1" fill="none" stroke="#f01818" stroke-width="1.3"/>
<polyline points="101.2,585.8 102.4,583.1 103.6,580.1" fill="none" stroke="none" marker-start="url(#mc)" marker-mid="url(#mc)" marker-end="url(#mc)"/>
<polyline points="104.8,576.7 106.0,572.8 107.2,568.3 108.4,563.2 109.6,557.3 110.8,550.6 112.1,543.0 113.3,534.2 114.5,524.3 115.7,513.2 116.9,500.9 118.1,487.8 119.3,474.2 120.5,461.0 121.8,449.1 123.0,440.0" fill="none" stroke="none" marker-start="url(#mcs)" marker-mid="url(#mcs)" marker-end="url(#mcs)"/>
<polyline points="124.2,434.7 124.2,434.7" fill="none" stroke="none" marker-start="url(#mc)" marker-mid="url(#mc)" marker-end="url(#mc)"/>
<polyline points="125.4,434.1 126.6,438.2 127.8,446.4 129.0,457.6 130.2,470.5 131.5,484.1 132.7,497.5 133.9,510.0 135.1,521.4 136.3,531.7 137.5,540.7 138.7,548.7 139.9,555.6 141.2,561.7 142.4,567.0 143.6,571.6" fill="none" stroke="none" marker-start="url(#mcs)" marker-mid="url(#mcs)" marker-end="url(#mcs)"/>
<polyline points="144.8,575.7 146.0,579.2 147.2,582.4 148.4,585.1 149.6,587.6 150.9,589.8 152.1,591.7 153.3,593.4 154.5,595.0 155.7,596.4 156.9,597.7 158.1,598.8 159.3,599.9 160.5,600.8 161.8,601.7 163.0,602.4 164.2,603.2 165.4,603.8 166.6,604.4 167.8,605.0 169.0,605.5 170.2,606.0 171.5,606.4 172.7,606.8 173.9,607.2 175.1,607.6 176.3,607.9 177.5,608.2 178.7,608.5 179.9,608.7 181.2,609.0 182.4,609.2 183.6,609.4 184.8,609.6 186.0,609.8 187.2,610.0 188.4,610.2 189.6,610.3 190.9,610.5 192.1,610.6 193.3,610.7 194.5,610.8 195.7,610.9 196.9,611.0 198.1,611.1 199.3,611.2 200.6,611.3 201.8,611.4 203.0,611.5 204.2,611.5 205.4,611.6 206.6,611.6 207.8,611.7 209.0,611.7 210.2,611.8 211.5,611.8 212.7,611.8 213.9,611.8 215.1,611.9 216.3,611.9 217.5,611.9 218.7,611.9 219.9,611.9 221.2,611.9 222.4,611.9 223.6,611.9 224.8,611.9 226.0,611.8 227.2,611.8 228.4,611.8 229.6,611.8 230.9,611.7 232.1,611.7 233.3,611.6 234.5,611.6 235.7,611.5 236.9,611.5 238.1,611.4 239.3,611.3 240.6,611.3 241.8,611.2 243.0,611.1 244.2,611.0 245.4,610.9 246.6,610.8 247.8,610.6 249.0,610.5 250.3,610.4 251.5,610.2 252.7,610.1 253.9,609.9 255.1,609.7 256.3,609.5 257.5,609.3 258.7,609.1 259.9,608.8 261.2,608.6 262.4,608.3 263.6,608.0 264.8,607.7 266.0,607.3 267.2,607.0 268.4,606.6 269.6,606.1 270.9,605.7 272.1,605.2 273.3,604.6 274.5,604.1 275.7,603.4 276.9,602.7 278.1,601.9 279.3,601.1 280.6,600.2 281.8,599.2 283.0,598.1 284.2,596.9 285.4,595.5 286.6,594.0 287.8,592.3 289.0,590.5 290.3,588.4 291.5,586.0 292.7,583.4 293.9,580.4" fill="none" stroke="none" marker-start="url(#mc)" marker-mid="url(#mc)" marker-end="url(#mc)"/>
<polyline points="295.1,577.0 296.3,573.1 297.5,568.7 298.7,563.6 300.0,557.8 301.2,551.2 302.4,543.6 303.6,535.0 304.8,525.1 306.0,514.1 307.2,501.9 308.4,488.8 309.6,475.3 310.9,462.0 312.1,450.0 313.3,440.6" fill="none" stroke="none" marker-start="url(#mcs)" marker-mid="url(#mcs)" marker-end="url(#mcs)"/>
<polyline points="314.5,435.0 315.7,434.0" fill="none" stroke="none" marker-start="url(#mc)" marker-mid="url(#mc)" marker-end="url(#mc)"/>
<polyline points="316.9,437.7 318.1,445.6 319.3,456.6 320.6,469.5 321.8,483.0 323.0,496.4 324.2,509.0 325.4,520.6 326.6,530.9 327.8,540.0 329.0,548.1 330.3,555.1 331.5,561.2 332.7,566.6 333.9,571.3" fill="none" stroke="none" marker-start="url(#mcs)" marker-mid="url(#mcs)" marker-end="url(#mcs)"/>
<polyline points="335.1,575.4 336.3,579.0 337.5,582.1 338.7,584.9 340.0,587.4 341.2,589.6 342.4,591.5 343.6,593.3 344.8,594.9 346.0,596.3 347.2,597.6 348.4,598.7 349.7,599.8 350.9,600.7 352.1,601.6 353.3,602.4 354.5,603.1 355.7,603.8 356.9,604.4 358.1,605.0 359.3,605.5 360.6,606.0 361.8,606.4 363.0,606.8 364.2,607.2 365.4,607.5 366.6,607.9 367.8,608.2 369.0,608.5 370.3,608.7 371.5,609.0 372.7,609.2 373.9,609.4 375.1,609.6 376.3,609.8 377.5,610.0 378.7,610.2 380.0,610.3 381.2,610.5 382.4,610.6 383.6,610.7 384.8,610.8 386.0,610.9 387.2,611.0 388.4,611.1 389.7,611.2 390.9,611.3 392.1,611.4 393.3,611.4 394.5,611.5 395.7,611.6 396.9,611.6 398.1,611.7 399.4,611.7 400.6,611.8 401.8,611.8 403.0,611.8 404.2,611.8 405.4,611.9 406.6,611.9 407.8,611.9 409.0,611.9 410.3,611.9 411.5,611.9 412.7,611.9 413.9,611.9 415.1,611.9 416.3,611.8 417.5,611.8 418.7,611.8 420.0,611.8 421.2,611.7 422.4,611.7 423.6,611.6 424.8,611.6 426.0,611.5 427.2,611.5 428.4,611.4 429.7,611.3 430.9,611.3 432.1,611.2 433.3,611.1 434.5,611.0 435.7,610.9 436.9,610.8 438.1,610.7 439.4,610.5 440.6,610.4 441.8,610.2 443.0,610.1 444.2,609.9 445.4,609.7 446.6,609.5 447.8,609.3 449.1,609.1 450.3,608.9 451.5,608.6 452.7,608.3 453.9,608.0 455.1,607.7 456.3,607.4 457.5,607.0 458.7,606.6 460.0,606.2 461.2,605.7 462.4,605.2 463.6,604.7 464.8,604.1 466.0,603.5 467.2,602.8 468.4,602.0 469.7,601.2 470.9,600.3 472.1,599.3 473.3,598.2 474.5,597.0 475.7,595.6 476.9,594.1 478.1,592.5 479.4,590.6 480.6,588.5 481.8,586.2 483.0,583.6 484.2,580.6" fill="none" stroke="none" marker-start="url(#mc)" marker-mid="url(#mc)" marker-end="url(#mc)"/>
<polyline points="485.4,577.2 486.6,573.4 487.8,569.0 489.1,564.0 490.3,558.3 491.5,551.8 492.7,544.3 493.9,535.7 495.1,526.0 496.3,515.0 497.5,503.0 498.8,489.9 500.0,476.4 501.2,463.0 502.4,450.9 503.6,441.2" fill="none" stroke="none" marker-start="url(#mcs)" marker-mid="url(#mcs)" marker-end="url(#mcs)"/>
<polyline points="504.8,435.3 506.0,433.9" fill="none" stroke="none" marker-start="url(#mc)" marker-mid="url(#mc)" marker-end="url(#mc)"/>
<polyline points="507.2,437.2 508.4,444.8 509.7,455.6 510.9,468.4 512.1,482.0 513.3,495.4 514.5,508.1 515.7,519.7 516.9,530.1 518.1,539.4 519.4,547.5 520.6,554.6 521.8,560.8 523.0,566.2 524.2,570.9" fill="none" stroke="none" marker-start="url(#mcs)" marker-mid="url(#mcs)" marker-end="url(#mcs)"/>
<polyline points="525.4,575.0 526.6,578.7 527.8,581.9 529.1,584.7 530.3,587.2 531.5,589.4 532.7,591.4 533.9,593.2 535.1,594.8 536.3,596.2 537.5,597.5 538.8,598.6 540.0,599.7 541.2,600.7 542.4,601.5 543.6,602.3 544.8,603.1 546.0,603.7 547.2,604.3 548.5,604.9 549.7,605.4 550.9,605.9 552.1,606.4 553.3,606.8 554.5,607.2 555.7,607.5 556.9,607.8 558.1,608.2 559.4,608.4 560.6,608.7 561.8,609.0 563.0,609.2 564.2,609.4 565.4,609.6 566.6,609.8 567.8,610.0 569.1,610.1 570.3,610.3 571.5,610.4 572.7,610.6 573.9,610.7 575.1,610.8 576.3,610.9 577.5,611.0 578.8,611.1 580.0,611.2 581.2,611.3 582.4,611.4 583.6,611.4 584.8,611.5 586.0,611.6 587.2,611.6 588.5,611.7 589.7,611.7 590.9,611.7 592.1,611.8 593.3,611.8 594.5,611.8 595.7,611.9 596.9,611.9 598.2,611.9 599.4,611.9 600.6,611.9 601.8,611.9 603.0,611.9 604.2,611.9 605.4,611.9 606.6,611.9 607.8,611.8 609.1,611.8 610.3,611.8 611.5,611.7 612.7,611.7 613.9,611.7 615.1,611.6 616.3,611.5 617.5,611.5 618.8,611.4 620.0,611.3 621.2,611.3 622.4,611.2 623.6,611.1 624.8,611.0 626.0,610.9 627.2,610.8 628.5,610.7 629.7,610.5 630.9,610.4 632.1,610.2 633.3,610.1 634.5,609.9 635.7,609.7 636.9,609.5 638.2,609.3 639.4,609.1 640.6,608.9 641.8,608.6 643.0,608.3 644.2,608.1 645.4,607.7 646.6,607.4 647.9,607.0 649.1,606.6 650.3,606.2 651.5,605.8 652.7,605.3 653.9,604.7 655.1,604.1 656.3,603.5 657.5,602.8 658.8,602.1 660.0,601.2 661.2,600.3 662.4,599.4 663.6,598.3 664.8,597.1 666.0,595.7 667.2,594.3 668.5,592.6 669.7,590.8 670.9,588.7 672.1,586.4 673.3,583.8 674.5,580.9 675.7,577.5" fill="none" stroke="none" marker-start="url(#mc)" marker-mid="url(#mc)" marker-end="url(#mc)"/>
<polyline points="676.9,573.7 678.2,569.4 679.4,564.5 680.6,558.8 681.8,552.3 683.0,544.9 684.2,536.4 685.4,526.8 686.6,515.9 687.9,504.0 689.1,491.0 690.3,477.4 691.5,464.0 692.7,451.8 693.9,441.9" fill="none" stroke="none" marker-start="url(#mcs)" marker-mid="url(#mcs)" marker-end="url(#mcs)"/>
<polyline points="695.1,435.6 696.3,433.8" fill="none" stroke="none" marker-start="url(#mc)" marker-mid="url(#mc)" marker-end="url(#mc)"/>
<polyline points="697.6,436.8 698.8,444.1 700.0,454.7 701.2,467.4 702.4,480.9 703.6,494.3 704.8,507.1 706.0,518.8 707.2,529.3 708.5,538.7 709.7,546.9 710.9,554.0 712.1,560.3 713.3,565.8 714.5,570.6" fill="none" stroke="none" marker-start="url(#mcs)" marker-mid="url(#mcs)" marker-end="url(#mcs)"/>
<polyline points="715.7,574.7 716.9,578.4 718.2,581.6 719.4,584.5 720.6,587.0 721.8,589.3 723.0,591.3 724.2,593.0 725.4,594.6 726.6,596.1 727.9,597.4 729.1,598.6 730.3,599.6 731.5,600.6 732.7,601.5 733.9,602.3 735.1,603.0 736.3,603.7 737.6,604.3 738.8,604.9 740.0,605.4 741.2,605.9 742.4,606.3 743.6,606.7 744.8,607.1 746.0,607.5 747.3,607.8 748.5,608.1 749.7,608.4 750.9,608.7 752.1,608.9 753.3,609.2 754.5,609.4 755.7,609.6 757.0,609.8 758.2,610.0 759.4,610.1 760.6,610.3 761.8,610.4 763.0,610.6 764.2,610.7 765.4,610.8 766.6,610.9 767.9,611.0 769.1,611.1 770.3,611.2 771.5,611.3 772.7,611.4 773.9,611.4 775.1,611.5 776.3,611.6 777.6,611.6 778.8,611.7 780.0,611.7 781.2,611.7 782.4,611.8 783.6,611.8 784.8,611.8 786.0,611.9 787.3,611.9 788.5,611.9 789.7,611.9 790.9,611.9 792.1,611.9 793.3,611.9 794.5,611.9 795.7,611.9 797.0,611.9 798.2,611.8 799.4,611.8 800.6,611.8 801.8,611.7 803.0,611.7 804.2,611.7 805.4,611.6 806.7,611.6 807.9,611.5 809.1,611.4 810.3,611.4 811.5,611.3 812.7,611.2 813.9,611.1 815.1,611.0 816.3,610.9 817.6,610.8 818.8,610.7 820.0,610.5 821.2,610.4 822.4,610.3 823.6,610.1 824.8,609.9 826.0,609.8 827.3,609.6 828.5,609.4 829.7,609.1 830.9,608.9 832.1,608.6 833.3,608.4 834.5,608.1 835.7,607.8 837.0,607.4 838.2,607.1 839.4,606.7 840.6,606.3 841.8,605.8 843.0,605.3 844.2,604.8 845.4,604.2 846.7,603.6 847.9,602.9 849.1,602.1 850.3,601.3 851.5,600.4 852.7,599.4 853.9,598.4 855.1,597.2 856.4,595.8 857.6,594.4 858.8,592.7 860.0,590.9 861.2,588.9 862.4,586.6 863.6,584.0 864.8,581.1 866.0,577.8" fill="none" stroke="none" marker-start="url(#mc)" marker-mid="url(#mc)" marker-end="url(#mc)"/>
<polyline points="867.3,574.1 868.5,569.8 869.7,564.9 870.9,559.3 872.1,552.9 873.3,545.5 874.5,537.1 875.7,527.6 877.0,516.9 878.2,504.9 879.4,492.0 880.6,478.5 881.8,465.1 883.0,452.7 884.2,442.6" fill="none" stroke="none" marker-start="url(#mcs)" marker-mid="url(#mcs)" marker-end="url(#mcs)"/>
<polyline points="885.4,435.9 886.7,433.8" fill="none" stroke="none" marker-start="url(#mc)" marker-mid="url(#mc)" marker-end="url(#mc)"/>
<polyline points="887.9,436.4 889.1,443.4 890.3,453.8 891.5,466.3 892.7,479.8 893.9,493.3 895.1,506.1 896.4,517.9 897.6,528.5 898.8,538.0 900.0,546.3 901.2,553.5 902.4,559.8 903.6,565.4 904.8,570.2" fill="none" stroke="none" marker-start="url(#mcs)" marker-mid="url(#mcs)" marker-end="url(#mcs)"/>
<polyline points="906.1,574.4 907.3,578.1 908.5,581.4 909.7,584.3 910.9,586.8 912.1,589.1 913.3,591.1 914.5,592.9 915.7,594.5 917.0,596.0 918.2,597.3 919.4,598.5 920.6,599.5 921.8,600.5 923.0,601.4 924.2,602.2 925.4,602.9 926.7,603.6 927.9,604.3 929.1,604.8 930.3,605.4 931.5,605.8 932.7,606.3 933.9,606.7 935.1,607.1 936.4,607.5 937.6,607.8 938.8,608.1 940.0,608.4 941.2,608.7 942.4,608.9 943.6,609.2 944.8,609.4 946.1,609.6 947.3,609.8 948.5,609.9" fill="none" stroke="none" marker-start="url(#mc)" marker-mid="url(#mc)" marker-end="url(#mc)"/>
<polyline points="949.7,610.1 949.7,610.1" fill="none" stroke="none" marker-start="url(#mcs)" marker-mid="url(#mcs)" marker-end="url(#mcs)"/>
<polyline points="101.2,554.3 101.8,553.0 102.4,551.8 103.0,550.4 103.6,549.1 104.2,547.7 104.8,546.3 105.4,544.9 106.0,543.5 106.6,542.1 107.2,540.7 107.8,539.3 108.4,537.9 109.0,536.5 109.6,535.2 110.2,533.9" fill="none" stroke="none" marker-start="url(#m2)" marker-mid="url(#m2)" marker-end="url(#m2)"/>
<polyline points="110.8,532.7 111.5,531.6 112.1,530.5 112.7,529.7" fill="none" stroke="none" marker-start="url(#m1)" marker-mid="url(#m1)" marker-end="url(#m1)"/>
<polyline points="113.3,529.0 113.9,528.5 114.5,528.2 115.1,528.3" fill="none" stroke="none" marker-start="url(#ml)" marker-mid="url(#ml)" marker-end="url(#ml)"/>
<polyline points="115.7,528.8 115.7,528.8" fill="none" stroke="none" marker-start="url(#m1)" marker-mid="url(#m1)" marker-end="url(#m1)"/>
<polyline points="116.3,529.6 116.3,529.6" fill="none" stroke="none" marker-start="url(#m2)" marker-mid="url(#m2)" marker-end="url(#m2)"/>
<polyline points="116.9,531.0 117.5,532.9" fill="none" stroke="none" marker-start="url(#m3)" marker-mid="url(#m3)" marker-end="url(#m3)"/>
<polyline points="118.1,535.4 118.7,538.7 119.3,542.7 119.9,547.5 120.5,553.2 121.2,559.8 121.8,567.3 122.4,575.5 123.0,584.5 123.6,594.1 124.2,604.2 124.8,614.5 125.4,624.9 126.0,635.1 126.6,645.0 127.2,654.3 127.8,663.0 128.4,670.9 129.0,677.9 129.6,684.1 130.2,689.4 130.8,693.9" fill="none" stroke="none" marker-start="url(#md)" marker-mid="url(#md)" marker-end="url(#md)"/>
<polyline points="131.5,697.5 132.1,700.4" fill="none" stroke="none" marker-start="url(#m3)" marker-mid="url(#m3)" marker-end="url(#m3)"/>
<polyline points="132.7,702.7 132.7,702.7" fill="none" stroke="none" marker-start="url(#m2)" marker-mid="url(#m2)" marker-end="url(#m2)"/>
<polyline points="133.3,704.3 133.9,705.4" fill="none" stroke="none" marker-start="url(#m1)" marker-mid="url(#m1)" marker-end="url(#m1)"/>
<polyline points="134.5,706.1 135.1,706.4 135.7,706.3 136.3,705.9" fill="none" stroke="none" marker-start="url(#ml)" marker-mid="url(#ml)" marker-end="url(#ml)"/>
<polyline points="136.9,705.3 137.5,704.6 138.1,703.6" fill="none" stroke="none" marker-start="url(#m1)" marker-mid="url(#m1)" marker-end="url(#m1)"/>
<polyline points="138.7,702.5 139.3,701.4 139.9,700.1 140.5,698.8 141.2,697.4 141.8,696.1 142.4,694.7 143.0,693.2 143.6,691.8 144.2,690.4 144.8,689.0 145.4,687.6 146.0,686.2 146.6,684.9 147.2,683.6 147.8,682.2 148.4,681.0 149.0,679.7 149.6,678.5 150.2,677.3 150.9,676.1" fill="none" stroke="none" marker-start="url(#m2)" marker-mid="url(#m2)" marker-end="url(#m2)"/>
<polyline points="151.5,674.9 152.1,673.8 152.7,672.7 153.3,671.6 153.9,670.5 154.5,669.5 155.1,668.5 155.7,667.5 156.3,666.5 156.9,665.6 157.5,664.7 158.1,663.8 158.7,662.9 159.3,662.0 159.9,661.2 160.5,660.4 161.2,659.5 161.8,658.8 162.4,658.0 163.0,657.2 163.6,656.5 164.2,655.7 164.8,655.0 165.4,654.3 166.0,653.6 166.6,653.0 167.2,652.3 167.8,651.7 168.4,651.0 169.0,650.4 169.6,649.8" fill="none" stroke="none" marker-start="url(#m1)" marker-mid="url(#m1)" marker-end="url(#m1)"/>
<polyline points="170.2,649.2 170.9,648.6 171.5,648.0 172.1,647.4 172.7,646.9 173.3,646.3 173.9,645.8 174.5,645.2 175.1,644.7 175.7,644.2 176.3,643.7 176.9,643.2 177.5,642.7 178.1,642.2 178.7,641.7 179.3,641.2 179.9,640.8 180.5,640.3 181.2,639.8 181.8,639.4 182.4,639.0 183.0,638.5 183.6,638.1 184.2,637.6 184.8,637.2 185.4,636.8 186.0,636.4 186.6,636.0 187.2,635.6 187.8,635.2 188.4,634.8 189.0,634.4 189.6,634.0 190.2,633.6 190.9,633.2 191.5,632.8 192.1,632.5 192.7,632.1 193.3,631.7 193.9,631.4 194.5,631.0 195.1,630.6 195.7,630.3 196.3,629.9 196.9,629.6 197.5,629.2 198.1,628.9 198.7,628.5 199.3,628.2 199.9,627.9 200.6,627.5 201.2,627.2 201.8,626.8 202.4,626.5 203.0,626.2 203.6,625.9 204.2,625.5 204.8,625.2 205.4,624.9 206.0,624.6 206.6,624.2 207.2,623.9 207.8,623.6 208.4,623.3 209.0,623.0 209.6,622.7 210.2,622.3 210.9,622.0 211.5,621.7 212.1,621.4 212.7,621.1 213.3,620.8 213.9,620.5 214.5,620.2 215.1,619.9 215.7,619.5 216.3,619.2 216.9,618.9 217.5,618.6 218.1,618.3 218.7,618.0 219.3,617.7 219.9,617.4 220.6,617.1 221.2,616.8 221.8,616.5 222.4,616.2 223.0,615.9 223.6,615.6 224.2,615.3 224.8,615.0 225.4,614.7 226.0,614.3 226.6,614.0 227.2,613.7 227.8,613.4 228.4,613.1 229.0,612.8 229.6,612.5 230.2,612.2 230.9,611.9 231.5,611.5 232.1,611.2 232.7,610.9 233.3,610.6 233.9,610.3 234.5,609.9 235.1,609.6 235.7,609.3 236.3,609.0 236.9,608.6 237.5,608.3 238.1,608.0 238.7,607.7 239.3,607.3 239.9,607.0 240.6,606.6 241.2,606.3 241.8,606.0 242.4,605.6 243.0,605.3 243.6,604.9 244.2,604.6 244.8,604.2 245.4,603.9 246.0,603.5 246.6,603.1 247.2,602.8 247.8,602.4 248.4,602.0 249.0,601.6 249.6,601.3 250.3,600.9 250.9,600.5 251.5,600.1 252.1,599.7 252.7,599.3 253.3,598.9 253.9,598.5 254.5,598.1 255.1,597.7 255.7,597.3 256.3,596.8 256.9,596.4 257.5,596.0 258.1,595.5 258.7,595.1 259.3,594.6 259.9,594.2 260.6,593.7 261.2,593.2 261.8,592.7 262.4,592.3 263.0,591.8 263.6,591.3 264.2,590.8 264.8,590.2 265.4,589.7 266.0,589.2 266.6,588.7 267.2,588.1 267.8,587.5 268.4,587.0 269.0,586.4 269.6,585.8" fill="none" stroke="none" marker-start="url(#ml)" marker-mid="url(#ml)" marker-end="url(#ml)"/>
<polyline points="270.3,585.2 270.9,584.6 271.5,584.0 272.1,583.4 272.7,582.7 273.3,582.1 273.9,581.4 274.5,580.7 275.1,580.1 275.7,579.4 276.3,578.6 276.9,577.9 277.5,577.2 278.1,576.4 278.7,575.6 279.3,574.8 279.9,574.0 280.6,573.2 281.2,572.3 281.8,571.4 282.4,570.6 283.0,569.7 283.6,568.7 284.2,567.8 284.8,566.8 285.4,565.8 286.0,564.8 286.6,563.7 287.2,562.7 287.8,561.6 288.4,560.5" fill="none" stroke="none" marker-start="url(#m1)" marker-mid="url(#m1)" marker-end="url(#m1)"/>
<polyline points="289.0,559.3 289.6,558.2 290.3,557.0 290.9,555.8 291.5,554.5 292.1,553.3 292.7,552.0 293.3,550.6 293.9,549.3 294.5,547.9 295.1,546.6 295.7,545.2 296.3,543.8 296.9,542.4 297.5,540.9 298.1,539.5 298.7,538.1 299.3,536.7 300.0,535.4 300.6,534.1" fill="none" stroke="none" marker-start="url(#m2)" marker-mid="url(#m2)" marker-end="url(#m2)"/>
<polyline points="301.2,532.9 301.8,531.7 302.4,530.7 303.0,529.8" fill="none" stroke="none" marker-start="url(#m1)" marker-mid="url(#m1)" marker-end="url(#m1)"/>
<polyline points="303.6,529.1 304.2,528.5 304.8,528.3 305.4,528.3" fill="none" stroke="none" marker-start="url(#ml)" marker-mid="url(#ml)" marker-end="url(#ml)"/>
<polyline points="306.0,528.7 306.0,528.7" fill="none" stroke="none" marker-start="url(#m1)" marker-mid="url(#m1)" marker-end="url(#m1)"/>
<polyline points="306.6,529.4 307.2,530.7" fill="none" stroke="none" marker-start="url(#m2)" marker-mid="url(#m2)" marker-end="url(#m2)"/>
<polyline points="307.8,532.5 307.8,532.5" fill="none" stroke="none" marker-start="url(#m3)" marker-mid="url(#m3)" marker-end="url(#m3)"/>
<polyline points="308.4,535.0 309.0,538.1 309.6,542.0 310.3,546.7 310.9,552.3 311.5,558.7 312.1,566.0 312.7,574.2 313.3,583.1 313.9,592.6 314.5,602.6 315.1,612.8 315.7,623.2 316.3,633.5 316.9,643.4 317.5,652.8 318.1,661.6 318.7,669.7 319.3,676.9 320.0,683.2 320.6,688.6 321.2,693.2 321.8,697.0" fill="none" stroke="none" marker-start="url(#md)" marker-mid="url(#md)" marker-end="url(#md)"/>
<polyline points="322.4,700.0 322.4,700.0" fill="none" stroke="none" marker-start="url(#m3)" marker-mid="url(#m3)" marker-end="url(#m3)"/>
<polyline points="323.0,702.4 323.6,704.1" fill="none" stroke="none" marker-start="url(#m2)" marker-mid="url(#m2)" marker-end="url(#m2)"/>
<polyline points="324.2,705.3 324.2,705.3" fill="none" stroke="none" marker-start="url(#m1)" marker-mid="url(#m1)" marker-end="url(#m1)"/>
<polyline points="324.8,706.0 325.4,706.3 326.0,706.3 326.6,706.0" fill="none" stroke="none" marker-start="url(#ml)" marker-mid="url(#ml)" marker-end="url(#ml)"/>
<polyline points="327.2,705.4 327.8,704.7 328.4,703.8" fill="none" stroke="none" marker-start="url(#m1)" marker-mid="url(#m1)" marker-end="url(#m1)"/>
<polyline points="329.0,702.7 329.6,701.6 330.3,700.3 330.9,699.0 331.5,697.7 332.1,696.3 332.7,694.9 333.3,693.5 333.9,692.0 334.5,690.6 335.1,689.2 335.7,687.8 336.3,686.5 336.9,685.1 337.5,683.8 338.1,682.5 338.7,681.2 339.3,679.9 340.0,678.7 340.6,677.4 341.2,676.3" fill="none" stroke="none" marker-start="url(#m2)" marker-mid="url(#m2)" marker-end="url(#m2)"/>
<polyline points="341.8,675.1 342.4,674.0 343.0,672.9 343.6,671.8 344.2,670.7 344.8,669.7 345.4,668.7 346.0,667.7 346.6,666.7 347.2,665.7 347.8,664.8 348.4,663.9 349.0,663.0 349.7,662.2 350.3,661.3 350.9,660.5 351.5,659.7 352.1,658.9 352.7,658.1 353.3,657.3 353.9,656.6 354.5,655.9 355.1,655.1 355.7,654.4 356.3,653.8 356.9,653.1 357.5,652.4 358.1,651.8 358.7,651.1 359.3,650.5 360.0,649.9" fill="none" stroke="none" marker-start="url(#m1)" marker-mid="url(#m1)" marker-end="url(#m1)"/>
<polyline points="360.6,649.3 361.2,648.7 361.8,648.1 362.4,647.5 363.0,647.0 363.6,646.4 364.2,645.9 364.8,645.3 365.4,644.8 366.0,644.3 366.6,643.8 367.2,643.3 367.8,642.8 368.4,642.3 369.0,641.8 369.7,641.3 370.3,640.8 370.9,640.4 371.5,639.9 372.1,639.5 372.7,639.0 373.3,638.6 373.9,638.1 374.5,637.7 375.1,637.3 375.7,636.9 376.3,636.5 376.9,636.0 377.5,635.6 378.1,635.2 378.7,634.8 379.3,634.4 380.0,634.0 380.6,633.7 381.2,633.3 381.8,632.9 382.4,632.5 383.0,632.2 383.6,631.8 384.2,631.4 384.8,631.1 385.4,630.7 386.0,630.3 386.6,630.0 387.2,629.6 387.8,629.3 388.4,628.9 389.0,628.6 389.7,628.2 390.3,627.9 390.9,627.6 391.5,627.2 392.1,626.9 392.7,626.6 393.3,626.2 393.9,625.9 394.5,625.6 395.1,625.3 395.7,624.9 396.3,624.6 396.9,624.3 397.5,624.0 398.1,623.6 398.7,623.3 399.4,623.0 400.0,622.7 400.6,622.4 401.2,622.1 401.8,621.8 402.4,621.5 403.0,621.1 403.6,620.8 404.2,620.5 404.8,620.2 405.4,619.9 406.0,619.6 406.6,619.3 407.2,619.0 407.8,618.7 408.4,618.4 409.0,618.1 409.7,617.8 410.3,617.5 410.9,617.1 411.5,616.8 412.1,616.5 412.7,616.2 413.3,615.9 413.9,615.6 414.5,615.3 415.1,615.0 415.7,614.7 416.3,614.4 416.9,614.1 417.5,613.8 418.1,613.5 418.7,613.2 419.4,612.8 420.0,612.5 420.6,612.2 421.2,611.9 421.8,611.6 422.4,611.3 423.0,611.0 423.6,610.6 424.2,610.3 424.8,610.0 425.4,609.7 426.0,609.4 426.6,609.0 427.2,608.7 427.8,608.4 428.4,608.0 429.1,607.7 429.7,607.4 430.3,607.0 430.9,606.7 431.5,606.4 432.1,606.0 432.7,605.7 433.3,605.3 433.9,605.0 434.5,604.6 435.1,604.3 435.7,603.9 436.3,603.6 436.9,603.2 437.5,602.8 438.1,602.5 438.7,602.1 439.4,601.7 440.0,601.3 440.6,600.9 441.2,600.6 441.8,600.2 442.4,599.8 443.0,599.4 443.6,599.0 444.2,598.6 444.8,598.2 445.4,597.7 446.0,597.3 446.6,596.9 447.2,596.5 447.8,596.0 448.4,595.6 449.1,595.1 449.7,594.7 450.3,594.2 450.9,593.8 451.5,593.3 452.1,592.8 452.7,592.3 453.3,591.8 453.9,591.3 454.5,590.8 455.1,590.3 455.7,589.8 456.3,589.3 456.9,588.7 457.5,588.2 458.1,587.6 458.7,587.1 459.4,586.5 460.0,585.9" fill="none" stroke="none" marker-start="url(#ml)" marker-mid="url(#ml)" marker-end="url(#ml)"/>
<polyline points="460.6,585.3 461.2,584.7 461.8,584.1 462.4,583.5 463.0,582.8 463.6,582.2 464.2,581.5 464.8,580.9 465.4,580.2 466.0,579.5 466.6,578.7 467.2,578.0 467.8,577.3 468.4,576.5 469.1,575.7 469.7,574.9 470.3,574.1 470.9,573.3 471.5,572.5 472.1,571.6 472.7,570.7 473.3,569.8 473.9,568.9 474.5,567.9 475.1,567.0 475.7,566.0 476.3,565.0 476.9,563.9 477.5,562.9 478.1,561.8 478.8,560.7" fill="none" stroke="none" marker-start="url(#m1)" marker-mid="url(#m1)" marker-end="url(#m1)"/>
<polyline points="479.4,559.5 480.0,558.4 480.6,557.2 481.2,556.0 481.8,554.7 482.4,553.5 483.0,552.2 483.6,550.9 484.2,549.5 484.8,548.2 485.4,546.8 486.0,545.4 486.6,544.0 487.2,542.6 487.8,541.2 488.4,539.7 489.1,538.3 489.7,537.0 490.3,535.6 490.9,534.3 491.5,533.1" fill="none" stroke="none" marker-start="url(#m2)" marker-mid="url(#m2)" marker-end="url(#m2)"/>
<polyline points="492.1,531.9 492.7,530.8 493.3,529.9" fill="none" stroke="none" marker-start="url(#m1)" marker-mid="url(#m1)" marker-end="url(#m1)"/>
<polyline points="493.9,529.2 494.5,528.6 495.1,528.3 495.7,528.3" fill="none" stroke="none" marker-start="url(#ml)" marker-mid="url(#ml)" marker-end="url(#ml)"/>
<polyline points="496.3,528.6 496.3,528.6" fill="none" stroke="none" marker-start="url(#m1)" marker-mid="url(#m1)" marker-end="url(#m1)"/>
<polyline points="496.9,529.3 497.5,530.5" fill="none" stroke="none" marker-start="url(#m2)" marker-mid="url(#m2)" marker-end="url(#m2)"/>
<polyline points="498.1,532.2 498.1,532.2" fill="none" stroke="none" marker-start="url(#m3)" marker-mid="url(#m3)" marker-end="url(#m3)"/>
<polyline points="498.8,534.5 499.4,537.6 500.0,541.3 500.6,545.9 501.2,551.3 501.8,557.6 502.4,564.8 503.0,572.8 503.6,581.6 504.2,591.0 504.8,600.9 505.4,611.2 506.0,621.6 506.6,631.9 507.2,641.9 507.8,651.4 508.4,660.3 509.1,668.4 509.7,675.8 510.3,682.2 510.9,687.8 511.5,692.5 512.1,696.4" fill="none" stroke="none" marker-start="url(#md)" marker-mid="url(#md)" marker-end="url(#md)"/>
<polyline points="512.7,699.6 512.7,699.6" fill="none" stroke="none" marker-start="url(#m3)" marker-mid="url(#m3)" marker-end="url(#m3)"/>
<polyline points="513.3,702.0 513.9,703.9" fill="none" stroke="none" marker-start="url(#m2)" marker-mid="url(#m2)" marker-end="url(#m2)"/>
<polyline points="514.5,705.1 514.5,705.1" fill="none" stroke="none" marker-start="url(#m1)" marker-mid="url(#m1)" marker-end="url(#m1)"/>
<polyline points="515.1,705.9 515.7,706.3 516.3,706.3 516.9,706.1" fill="none" stroke="none" marker-start="url(#ml)" marker-mid="url(#ml)" marker-end="url(#ml)"/>
<polyline points="517.5,705.5 518.1,704.8 518.8,703.9 519.4,702.9" fill="none" stroke="none" marker-start="url(#m1)" marker-mid="url(#m1)" marker-end="url(#m1)"/>
<polyline points="520.0,701.7 520.6,700.5 521.2,699.2 521.8,697.9 522.4,696.5 523.0,695.1 523.6,693.7 524.2,692.3 524.8,690.9 525.4,689.5 526.0,688.1 526.6,686.7 527.2,685.3 527.8,684.0 528.5,682.7 529.1,681.4 529.7,680.1 530.3,678.9 530.9,677.6 531.5,676.4" fill="none" stroke="none" marker-start="url(#m2)" marker-mid="url(#m2)" marker-end="url(#m2)"/>
<polyline points="532.1,675.3 532.7,674.1 533.3,673.0 533.9,671.9 534.5,670.9 535.1,669.8 535.7,668.8 536.3,667.8 536.9,666.8 537.5,665.9 538.1,665.0 538.8,664.1 539.4,663.2 540.0,662.3 540.6,661.4 541.2,660.6 541.8,659.8 542.4,659.0 543.0,658.2 543.6,657.5 544.2,656.7 544.8,656.0 545.4,655.3 546.0,654.6 546.6,653.9 547.2,653.2 547.8,652.5 548.5,651.9 549.1,651.2 549.7,650.6 550.3,650.0" fill="none" stroke="none" marker-start="url(#m1)" marker-mid="url(#m1)" marker-end="url(#m1)"/>
<polyline points="550.9,649.4 551.5,648.8 552.1,648.2 552.7,647.6 553.3,647.1 553.9,646.5 554.5,646.0 555.1,645.4 555.7,644.9 556.3,644.4 556.9,643.9 557.5,643.3 558.1,642.8 558.8,642.4 559.4,641.9 560.0,641.4 560.6,640.9 561.2,640.5 561.8,640.0 562.4,639.5 563.0,639.1 563.6,638.7 564.2,638.2 564.8,637.8 565.4,637.4 566.0,636.9 566.6,636.5 567.2,636.1 567.8,635.7 568.5,635.3 569.1,634.9 569.7,634.5 570.3,634.1 570.9,633.7 571.5,633.3 572.1,633.0 572.7,632.6 573.3,632.2 573.9,631.8 574.5,631.5 575.1,631.1 575.7,630.7 576.3,630.4 576.9,630.0 577.5,629.7 578.2,629.3 578.8,629.0 579.4,628.6 580.0,628.3 580.6,628.0 581.2,627.6 581.8,627.3 582.4,626.9 583.0,626.6 583.6,626.3 584.2,626.0 584.8,625.6 585.4,625.3 586.0,625.0 586.6,624.7 587.2,624.3 587.8,624.0 588.5,623.7 589.1,623.4 589.7,623.1 590.3,622.8 590.9,622.4 591.5,622.1 592.1,621.8 592.7,621.5 593.3,621.2 593.9,620.9 594.5,620.6 595.1,620.3 595.7,620.0 596.3,619.6 596.9,619.3 597.5,619.0 598.2,618.7 598.8,618.4 599.4,618.1 600.0,617.8 600.6,617.5 601.2,617.2 601.8,616.9 602.4,616.6 603.0,616.3 603.6,616.0 604.2,615.7 604.8,615.4 605.4,615.1 606.0,614.7 606.6,614.4 607.2,614.1 607.8,613.8 608.5,613.5 609.1,613.2 609.7,612.9 610.3,612.6 610.9,612.3 611.5,612.0 612.1,611.6 612.7,611.3 613.3,611.0 613.9,610.7 614.5,610.4 615.1,610.0 615.7,609.7 616.3,609.4 616.9,609.1 617.5,608.8 618.2,608.4 618.8,608.1 619.4,607.8 620.0,607.4 620.6,607.1 621.2,606.8 621.8,606.4 622.4,606.1 623.0,605.7 623.6,605.4 624.2,605.0 624.8,604.7 625.4,604.3 626.0,604.0 626.6,603.6 627.2,603.2 627.9,602.9 628.5,602.5 629.1,602.1 629.7,601.8 630.3,601.4 630.9,601.0 631.5,600.6 632.1,600.2 632.7,599.8 633.3,599.4 633.9,599.0 634.5,598.6 635.1,598.2 635.7,597.8 636.3,597.4 636.9,597.0 637.5,596.5 638.2,596.1 638.8,595.7 639.4,595.2 640.0,594.8 640.6,594.3 641.2,593.8 641.8,593.4 642.4,592.9 643.0,592.4 643.6,591.9 644.2,591.4 644.8,590.9 645.4,590.4 646.0,589.9 646.6,589.4 647.2,588.8 647.9,588.3 648.5,587.7 649.1,587.2 649.7,586.6 650.3,586.0" fill="none" stroke="none" marker-start="url(#ml)" marker-mid="url(#ml)" marker-end="url(#ml)"/>
<polyline points="650.9,585.4 651.5,584.8 652.1,584.2 652.7,583.6 653.3,582.9 653.9,582.3 654.5,581.6 655.1,581.0 655.7,580.3 656.3,579.6 656.9,578.9 657.5,578.1 658.2,577.4 658.8,576.6 659.4,575.9 660.0,575.1 660.6,574.3 661.2,573.4 661.8,572.6 662.4,571.7 663.0,570.8 663.6,569.9 664.2,569.0 664.8,568.1 665.4,567.1 666.0,566.1 666.6,565.1 667.2,564.1 667.9,563.0 668.5,561.9 669.1,560.8" fill="none" stroke="none" marker-start="url(#m1)" marker-mid="url(#m1)" marker-end="url(#m1)"/>
<polyline points="669.7,559.7 670.3,558.5 670.9,557.4 671.5,556.2 672.1,554.9 672.7,553.7 673.3,552.4 673.9,551.1 674.5,549.7 675.1,548.4 675.7,547.0 676.3,545.6 676.9,544.2 677.6,542.8 678.2,541.4 678.8,540.0 679.4,538.6 680.0,537.2 680.6,535.8 681.2,534.5 681.8,533.3" fill="none" stroke="none" marker-start="url(#m2)" marker-mid="url(#m2)" marker-end="url(#m2)"/>
<polyline points="682.4,532.1 683.0,531.0 683.6,530.1" fill="none" stroke="none" marker-start="url(#m1)" marker-mid="url(#m1)" marker-end="url(#m1)"/>
<polyline points="684.2,529.3 684.8,528.7 685.4,528.3 686.0,528.2" fill="none" stroke="none" marker-start="url(#ml)" marker-mid="url(#ml)" marker-end="url(#ml)"/>
<polyline points="686.6,528.5 687.2,529.1" fill="none" stroke="none" marker-start="url(#m1)" marker-mid="url(#m1)" marker-end="url(#m1)"/>
<polyline points="687.9,530.3 687.9,530.3" fill="none" stroke="none" marker-start="url(#m2)" marker-mid="url(#m2)" marker-end="url(#m2)"/>
<polyline points="688.5,531.9 689.1,534.1" fill="none" stroke="none" marker-start="url(#m3)" marker-mid="url(#m3)" marker-end="url(#m3)"/>
<polyline points="689.7,537.0 690.3,540.7 690.9,545.1 691.5,550.4 692.1,556.6 692.7,563.6 693.3,571.5 693.9,580.1 694.5,589.5 695.1,599.3 695.7,609.6 696.3,619.9 696.9,630.2 697.6,640.3 698.2,649.9 698.8,658.9 699.4,667.2 700.0,674.7 700.6,681.3 701.2,687.0 701.8,691.8 702.4,695.9" fill="none" stroke="none" marker-start="url(#md)" marker-mid="url(#md)" marker-end="url(#md)"/>
<polyline points="703.0,699.1 703.6,701.7" fill="none" stroke="none" marker-start="url(#m3)" marker-mid="url(#m3)" marker-end="url(#m3)"/>
<polyline points="704.2,703.6 704.2,703.6" fill="none" stroke="none" marker-start="url(#m2)" marker-mid="url(#m2)" marker-end="url(#m2)"/>
<polyline points="704.8,705.0 704.8,705.0" fill="none" stroke="none" marker-start="url(#m1)" marker-mid="url(#m1)" marker-end="url(#m1)"/>
<polyline points="705.4,705.8 706.0,706.3 706.6,706.4 707.2,706.1" fill="none" stroke="none" marker-start="url(#ml)" marker-mid="url(#ml)" marker-end="url(#ml)"/>
<polyline points="707.9,705.6 708.5,704.9 709.1,704.1 709.7,703.1" fill="none" stroke="none" marker-start="url(#m1)" marker-mid="url(#m1)" marker-end="url(#m1)"/>
<polyline points="710.3,701.9 710.9,700.7 711.5,699.4 712.1,698.1 712.7,696.7 713.3,695.3 713.9,693.9 714.5,692.5 715.1,691.1 715.7,689.7 716.3,688.3 716.9,686.9 717.6,685.5 718.2,684.2 718.8,682.9 719.4,681.6 720.0,680.3 720.6,679.1 721.2,677.8 721.8,676.6" fill="none" stroke="none" marker-start="url(#m2)" marker-mid="url(#m2)" marker-end="url(#m2)"/>
<polyline points="722.4,675.5 723.0,674.3 723.6,673.2 724.2,672.1 724.8,671.0 725.4,670.0 726.0,669.0 726.6,668.0 727.3,667.0 727.9,666.0 728.5,665.1 729.1,664.2 729.7,663.3 730.3,662.4 730.9,661.6 731.5,660.7 732.1,659.9 732.7,659.1 733.3,658.3 733.9,657.6 734.5,656.8 735.1,656.1 735.7,655.4 736.3,654.7 736.9,654.0 737.6,653.3 738.2,652.6 738.8,652.0 739.4,651.3 740.0,650.7 740.6,650.1 741.2,649.5" fill="none" stroke="none" marker-start="url(#m1)" marker-mid="url(#m1)" marker-end="url(#m1)"/>
<polyline points="741.8,648.9 742.4,648.3 743.0,647.7 743.6,647.2 744.2,646.6 744.8,646.0 745.4,645.5 746.0,645.0 746.6,644.4 747.3,643.9 747.9,643.4 748.5,642.9 749.1,642.4 749.7,641.9 750.3,641.5 750.9,641.0 751.5,640.5 752.1,640.1 752.7,639.6 753.3,639.2 753.9,638.7 754.5,638.3 755.1,637.9 755.7,637.4 756.3,637.0 757.0,636.6 757.6,636.2 758.2,635.8 758.8,635.4 759.4,635.0 760.0,634.6 760.6,634.2 761.2,633.8 761.8,633.4 762.4,633.0 763.0,632.6 763.6,632.3 764.2,631.9 764.8,631.5 765.4,631.2 766.0,630.8 766.6,630.4 767.3,630.1 767.9,629.7 768.5,629.4 769.1,629.0 769.7,628.7 770.3,628.4 770.9,628.0 771.5,627.7 772.1,627.3 772.7,627.0 773.3,626.7 773.9,626.3 774.5,626.0 775.1,625.7 775.7,625.4 776.3,625.0 777.0,624.7 777.6,624.4 778.2,624.1 778.8,623.8 779.4,623.4 780.0,623.1 780.6,622.8 781.2,622.5 781.8,622.2 782.4,621.9 783.0,621.6 783.6,621.2 784.2,620.9 784.8,620.6 785.4,620.3 786.0,620.0 786.6,619.7 787.3,619.4 787.9,619.1 788.5,618.8 789.1,618.5 789.7,618.2 790.3,617.9 790.9,617.6 791.5,617.2 792.1,616.9 792.7,616.6 793.3,616.3 793.9,616.0 794.5,615.7 795.1,615.4 795.7,615.1 796.3,614.8 797.0,614.5 797.6,614.2 798.2,613.9 798.8,613.6 799.4,613.3 800.0,612.9 800.6,612.6 801.2,612.3 801.8,612.0 802.4,611.7 803.0,611.4 803.6,611.1 804.2,610.7 804.8,610.4 805.4,610.1 806.0,609.8 806.7,609.5 807.3,609.1 807.9,608.8 808.5,608.5 809.1,608.1 809.7,607.8 810.3,607.5 810.9,607.1 811.5,606.8 812.1,606.5 812.7,606.1 813.3,605.8 813.9,605.4 814.5,605.1 815.1,604.7 815.7,604.4 816.3,604.0 817.0,603.7 817.6,603.3 818.2,602.9 818.8,602.6 819.4,602.2 820.0,601.8 820.6,601.4 821.2,601.1 821.8,600.7 822.4,600.3 823.0,599.9 823.6,599.5 824.2,599.1 824.8,598.7 825.4,598.3 826.0,597.9 826.7,597.5 827.3,597.0 827.9,596.6 828.5,596.2 829.1,595.7 829.7,595.3 830.3,594.8 830.9,594.4 831.5,593.9 832.1,593.4 832.7,593.0 833.3,592.5 833.9,592.0 834.5,591.5 835.1,591.0 835.7,590.5 836.3,590.0 837.0,589.4 837.6,588.9 838.2,588.4 838.8,587.8 839.4,587.3 840.0,586.7 840.6,586.1" fill="none" stroke="none" marker-start="url(#ml)" marker-mid="url(#ml)" marker-end="url(#ml)"/>
<polyline points="841.2,585.5 841.8,584.9 842.4,584.3 843.0,583.7 843.6,583.0 844.2,582.4 844.8,581.7 845.4,581.1 846.0,580.4 846.7,579.7 847.3,579.0 847.9,578.3 848.5,577.5 849.1,576.8 849.7,576.0 850.3,575.2 850.9,574.4 851.5,573.6 852.1,572.7 852.7,571.9 853.3,571.0 853.9,570.1 854.5,569.2 855.1,568.2 855.7,567.3 856.4,566.3 857.0,565.3 857.6,564.2 858.2,563.2 858.8,562.1 859.4,561.0" fill="none" stroke="none" marker-start="url(#m1)" marker-mid="url(#m1)" marker-end="url(#m1)"/>
<polyline points="860.0,559.9 860.6,558.7 861.2,557.6 861.8,556.3 862.4,555.1 863.0,553.9 863.6,552.6 864.2,551.3 864.8,549.9 865.4,548.6 866.0,547.2 866.7,545.8 867.3,544.4 867.9,543.0 868.5,541.6 869.1,540.2 869.7,538.8 870.3,537.4 870.9,536.0 871.5,534.7 872.1,533.5" fill="none" stroke="none" marker-start="url(#m2)" marker-mid="url(#m2)" marker-end="url(#m2)"/>
<polyline points="872.7,532.3 873.3,531.2 873.9,530.2 874.5,529.4" fill="none" stroke="none" marker-start="url(#m1)" marker-mid="url(#m1)" marker-end="url(#m1)"/>
<polyline points="875.1,528.8 875.7,528.4 876.4,528.2 877.0,528.4" fill="none" stroke="none" marker-start="url(#ml)" marker-mid="url(#ml)" marker-end="url(#ml)"/>
<polyline points="877.6,529.0 877.6,529.0" fill="none" stroke="none" marker-start="url(#m1)" marker-mid="url(#m1)" marker-end="url(#m1)"/>
<polyline points="878.2,530.0 878.2,530.0" fill="none" stroke="none" marker-start="url(#m2)" marker-mid="url(#m2)" marker-end="url(#m2)"/>
<polyline points="878.8,531.6 879.4,533.7" fill="none" stroke="none" marker-start="url(#m3)" marker-mid="url(#m3)" marker-end="url(#m3)"/>
<polyline points="880.0,536.5 880.6,540.0 881.2,544.3 881.8,549.5 882.4,555.5 883.0,562.4 883.6,570.2 884.2,578.7 884.8,588.0 885.4,597.7 886.0,607.9 886.7,618.3 887.3,628.6 887.9,638.7 888.5,648.4 889.1,657.5 889.7,665.9 890.3,673.5 890.9,680.3 891.5,686.1 892.1,691.1 892.7,695.3" fill="none" stroke="none" marker-start="url(#md)" marker-mid="url(#md)" marker-end="url(#md)"/>
<polyline points="893.3,698.7 893.9,701.3" fill="none" stroke="none" marker-start="url(#m3)" marker-mid="url(#m3)" marker-end="url(#m3)"/>
<polyline points="894.5,703.3 894.5,703.3" fill="none" stroke="none" marker-start="url(#m2)" marker-mid="url(#m2)" marker-end="url(#m2)"/>
<polyline points="895.1,704.8 895.1,704.8" fill="none" stroke="none" marker-start="url(#m1)" marker-mid="url(#m1)" marker-end="url(#m1)"/>
<polyline points="895.7,705.7 896.4,706.2 897.0,706.4 897.6,706.2" fill="none" stroke="none" marker-start="url(#ml)" marker-mid="url(#ml)" marker-end="url(#ml)"/>
<polyline points="898.2,705.7 898.8,705.1 899.4,704.2 900.0,703.2" fill="none" stroke="none" marker-start="url(#m1)" marker-mid="url(#m1)" marker-end="url(#m1)"/>
<polyline points="900.6,702.1 901.2,700.9 901.8,699.6 902.4,698.3 903.0,696.9 903.6,695.6 904.2,694.1 904.8,692.7 905.4,691.3 906.1,689.9 906.7,688.5 907.3,687.1 907.9,685.8 908.5,684.4 909.1,683.1 909.7,681.8 910.3,680.5 910.9,679.3 911.5,678.0 912.1,676.8" fill="none" stroke="none" marker-start="url(#m2)" marker-mid="url(#m2)" marker-end="url(#m2)"/>
<polyline points="912.7,675.7 913.3,674.5 913.9,673.4 914.5,672.3 915.1,671.2 915.7,670.2 916.4,669.1 917.0,668.1 917.6,667.2 918.2,666.2 918.8,665.3 919.4,664.3 920.0,663.4 920.6,662.6 921.2,661.7 921.8,660.9 922.4,660.1 923.0,659.3 923.6,658.5 924.2,657.7 924.8,656.9 925.4,656.2 926.1,655.5 926.7,654.8 927.3,654.1 927.9,653.4 928.5,652.7 929.1,652.1 929.7,651.4 930.3,650.8 930.9,650.2 931.5,649.6" fill="none" stroke="none" marker-start="url(#m1)" marker-mid="url(#m1)" marker-end="url(#m1)"/>
<polyline points="932.1,649.0 932.7,648.4 933.3,647.8 933.9,647.2 934.5,646.7 935.1,646.1 935.7,645.6 936.4,645.1 937.0,644.5 937.6,644.0 938.2,643.5 938.8,643.0 939.4,642.5 940.0,642.0 940.6,641.5 941.2,641.1 941.8,640.6 942.4,640.1 943.0,639.7 943.6,639.2 944.2,638.8 944.8,638.4 945.4,637.9 946.1,637.5 946.7,637.1 947.3,636.7 947.9,636.2 948.5,635.8 949.1,635.4" fill="none" stroke="none" marker-start="url(#ml)" marker-mid="url(#ml)" marker-end="url(#ml)"/>
<polyline points="949.7,635.0 949.7,635.0" fill="none" stroke="none" marker-start="url(#md)" marker-mid="url(#md)" marker-end="url(#md)"/>
<polyline points="101.2,554.3 102.4,556.9 103.6,559.6 104.8,562.3 106.0,565.2 107.2,568.1 108.4,571.1 109.6,574.2 110.8,577.3 112.1,580.5 113.3,583.8 114.5,587.1 115.7,590.5 116.9,593.9 118.1,597.4 119.3,600.9 120.5,604.4 121.8,607.9 123.0,611.5 124.2,615.0 125.4,618.6 126.6,622.2 127.8,625.7 129.0,629.3 130.2,632.8 131.5,636.3 132.7,639.7 133.9,643.2 135.1,646.5 136.3,649.9 137.5,653.2 138.7,656.4 139.9,659.6 141.2,662.7 142.4,665.7 143.6,668.7 144.8,671.5 146.0,674.3 147.2,677.0 148.4,679.6 149.6,682.1 150.9,684.5 152.1,686.8 153.3,688.9 154.5,691.0 155.7,692.9 156.9,694.8 158.1,696.5 159.3,698.0 160.5,699.5 161.8,700.8 163.0,702.0 164.2,703.0 165.4,703.9 166.6,704.7 167.8,705.3 169.0,705.8 170.2,706.1 171.5,706.3 172.7,706.4 173.9,706.3 175.1,706.1 176.3,705.7 177.5,705.2 178.7,704.5 179.9,703.7 181.2,702.8 182.4,701.7 183.6,700.5 184.8,699.2 186.0,697.7 187.2,696.1 188.4,694.4 189.6,692.6 190.9,690.6 192.1,688.5 193.3,686.3 194.5,684.0 195.7,681.6 196.9,679.1 198.1,676.5 199.3,673.8 200.6,671.0 201.8,668.1 203.0,665.1 204.2,662.1 205.4,659.0 206.6,655.8 207.8,652.6 209.0,649.3 210.2,645.9 211.5,642.5 212.7,639.1 213.9,635.6 215.1,632.1 216.3,628.6 217.5,625.0 218.7,621.5 219.9,617.9 221.2,614.4 222.4,610.8 223.6,607.3 224.8,603.7 226.0,600.2 227.2,596.7 228.4,593.3 229.6,589.9 230.9,586.5 232.1,583.2 233.3,579.9 234.5,576.7 235.7,573.6 236.9,570.5 238.1,567.5 239.3,564.6 240.6,561.8 241.8,559.0 243.0,556.4 244.2,553.8 245.4,551.4 246.6,549.1 247.8,546.8 249.0,544.7 250.3,542.7 251.5,540.8 252.7,539.0 253.9,537.4 255.1,535.9 256.3,534.5 257.5,533.3 258.7,532.2 259.9,531.2 261.2,530.3 262.4,529.6 263.6,529.1 264.8,528.7 266.0,528.4 267.2,528.2 268.4,528.3 269.6,528.4 270.9,528.7 272.1,529.1 273.3,529.7 274.5,530.4 275.7,531.3 276.9,532.3 278.1,533.4 279.3,534.7 280.6,536.1 281.8,537.6 283.0,539.2 284.2,541.0 285.4,542.9 286.6,544.9 287.8,547.1 289.0,549.3 290.3,551.7 291.5,554.1 292.7,556.7 293.9,559.3 295.1,562.1 296.3,564.9 297.5,567.9 298.7,570.9 300.0,573.9 301.2,577.1 302.4,580.3 303.6,583.6 304.8,586.9 306.0,590.2 307.2,593.7 308.4,597.1 309.6,600.6 310.9,604.1 312.1,607.6 313.3,611.2 314.5,614.8 315.7,618.3 316.9,621.9 318.1,625.4 319.3,629.0 320.6,632.5 321.8,636.0 323.0,639.5 324.2,642.9 325.4,646.3 326.6,649.6 327.8,652.9 329.0,656.2 330.3,659.3 331.5,662.4 332.7,665.5 333.9,668.4 335.1,671.3 336.3,674.1 337.5,676.8 338.7,679.4 340.0,681.9 341.2,684.3 342.4,686.6 343.6,688.8 344.8,690.8 346.0,692.8 347.2,694.6 348.4,696.3 349.7,697.9 350.9,699.4 352.1,700.7 353.3,701.9 354.5,702.9 355.7,703.8 356.9,704.6 358.1,705.2 359.3,705.7 360.6,706.1 361.8,706.3 363.0,706.4 364.2,706.3 365.4,706.1 366.6,705.7 367.8,705.2 369.0,704.6 370.3,703.8 371.5,702.9 372.7,701.8 373.9,700.6 375.1,699.3 376.3,697.9 377.5,696.3 378.7,694.6 380.0,692.7 381.2,690.8 382.4,688.7 383.6,686.5 384.8,684.2 386.0,681.8 387.2,679.3 388.4,676.7 389.7,674.0 390.9,671.2 392.1,668.3 393.3,665.4 394.5,662.3 395.7,659.2 396.9,656.1 398.1,652.8 399.4,649.5 400.6,646.2 401.8,642.8 403.0,639.4 404.2,635.9 405.4,632.4 406.6,628.9 407.8,625.3 409.0,621.8 410.3,618.2 411.5,614.6 412.7,611.1 413.9,607.5 415.1,604.0 416.3,600.5 417.5,597.0 418.7,593.6 420.0,590.1 421.2,586.8 422.4,583.5 423.6,580.2 424.8,577.0 426.0,573.8 427.2,570.8 428.4,567.8 429.7,564.8 430.9,562.0 432.1,559.3 433.3,556.6 434.5,554.0 435.7,551.6 436.9,549.2 438.1,547.0 439.4,544.9 440.6,542.8 441.8,541.0 443.0,539.2 444.2,537.5 445.4,536.0 446.6,534.6 447.8,533.4 449.1,532.2 450.3,531.2 451.5,530.4 452.7,529.7 453.9,529.1 455.1,528.7 456.3,528.4 457.5,528.3 458.7,528.2 460.0,528.4 461.2,528.7 462.4,529.1 463.6,529.7 464.8,530.4 466.0,531.2 467.2,532.2 468.4,533.3 469.7,534.6 470.9,535.9 472.1,537.5 473.3,539.1 474.5,540.9 475.7,542.8 476.9,544.8 478.1,546.9 479.4,549.1 480.6,551.5 481.8,553.9 483.0,556.5 484.2,559.1 485.4,561.9 486.6,564.7 487.8,567.6 489.1,570.6 490.3,573.7 491.5,576.8 492.7,580.0 493.9,583.3 495.1,586.6 496.3,590.0 497.5,593.4 498.8,596.8 500.0,600.3 501.2,603.8 502.4,607.4 503.6,610.9 504.8,614.5 506.0,618.0 507.2,621.6 508.4,625.1 509.7,628.7 510.9,632.2 512.1,635.7 513.3,639.2 514.5,642.6 515.7,646.0 516.9,649.4 518.1,652.7 519.4,655.9 520.6,659.1 521.8,662.2 523.0,665.2 524.2,668.2 525.4,671.1 526.6,673.9 527.8,676.6 529.1,679.2 530.3,681.7 531.5,684.1 532.7,686.4 533.9,688.6 535.1,690.7 536.3,692.6 537.5,694.5 538.8,696.2 540.0,697.8 541.2,699.2 542.4,700.6 543.6,701.8 544.8,702.8 546.0,703.8 547.2,704.5 548.5,705.2 549.7,705.7 550.9,706.1 552.1,706.3 553.3,706.4 554.5,706.3 555.7,706.1 556.9,705.8 558.1,705.3 559.4,704.6 560.6,703.9 561.8,703.0 563.0,701.9 564.2,700.7 565.4,699.4 566.6,698.0 567.8,696.4 569.1,694.7 570.3,692.9 571.5,690.9 572.7,688.9 573.9,686.7 575.1,684.4 576.3,682.0 577.5,679.5 578.8,676.9 580.0,674.2 581.2,671.4 582.4,668.6 583.6,665.6 584.8,662.6 586.0,659.5 587.2,656.3 588.5,653.1 589.7,649.8 590.9,646.4 592.1,643.1 593.3,639.6 594.5,636.2 595.7,632.7 596.9,629.1 598.2,625.6 599.4,622.1 600.6,618.5 601.8,614.9 603.0,611.4 604.2,607.8 605.4,604.3 606.6,600.8 607.8,597.3 609.1,593.8 610.3,590.4 611.5,587.0 612.7,583.7 613.9,580.4 615.1,577.2 616.3,574.1 617.5,571.0 618.8,568.0 620.0,565.1 621.2,562.2 622.4,559.5 623.6,556.8 624.8,554.2 626.0,551.8 627.2,549.4 628.5,547.2 629.7,545.0 630.9,543.0 632.1,541.1 633.3,539.3 634.5,537.7 635.7,536.1 636.9,534.7 638.2,533.5 639.4,532.3 640.6,531.3 641.8,530.5 643.0,529.7 644.2,529.2 645.4,528.7 646.6,528.4 647.9,528.3 649.1,528.2 650.3,528.4 651.5,528.6 652.7,529.1 653.9,529.6 655.1,530.3 656.3,531.1 657.5,532.1 658.8,533.2 660.0,534.4 661.2,535.8 662.4,537.3 663.6,539.0 664.8,540.7 666.0,542.6 667.2,544.6 668.5,546.7 669.7,548.9 670.9,551.3 672.1,553.7 673.3,556.3 674.5,558.9 675.7,561.6 676.9,564.5 678.2,567.4 679.4,570.4 680.6,573.4 681.8,576.6 683.0,579.8 684.2,583.0 685.4,586.3 686.6,589.7 687.9,593.1 689.1,596.6 690.3,600.0 691.5,603.6 692.7,607.1 693.9,610.6 695.1,614.2 696.3,617.7 697.6,621.3 698.8,624.9 700.0,628.4 701.2,631.9 702.4,635.4 703.6,638.9 704.8,642.3 706.0,645.7 707.2,649.1 708.5,652.4 709.7,655.6 710.9,658.8 712.1,661.9 713.3,665.0 714.5,668.0 715.7,670.9 716.9,673.7 718.2,676.4 719.4,679.0 720.6,681.5 721.8,683.9 723.0,686.2 724.2,688.4 725.4,690.5 726.6,692.5 727.9,694.3 729.1,696.1 730.3,697.7 731.5,699.1 732.7,700.5 733.9,701.7 735.1,702.8 736.3,703.7 737.6,704.5 738.8,705.1 740.0,705.7 741.2,706.0 742.4,706.3 743.6,706.4 744.8,706.3 746.0,706.1 747.3,705.8 748.5,705.3 749.7,704.7 750.9,703.9 752.1,703.0 753.3,702.0 754.5,700.8 755.7,699.5 757.0,698.1 758.2,696.5 759.4,694.8 760.6,693.0 761.8,691.1 763.0,689.0 764.2,686.9 765.4,684.6 766.6,682.2 767.9,679.7 769.1,677.1 770.3,674.4 771.5,671.7 772.7,668.8 773.9,665.9 775.1,662.8 776.3,659.7 777.6,656.6 778.8,653.3 780.0,650.1 781.2,646.7 782.4,643.3 783.6,639.9 784.8,636.4 786.0,632.9 787.3,629.4 788.5,625.9 789.7,622.3 790.9,618.8 792.1,615.2 793.3,611.7 794.5,608.1 795.7,604.6 797.0,601.1 798.2,597.6 799.4,594.1 800.6,590.7 801.8,587.3 803.0,584.0 804.2,580.7 805.4,577.5 806.7,574.3 807.9,571.2 809.1,568.2 810.3,565.3 811.5,562.4 812.7,559.7 813.9,557.0 815.1,554.4 816.3,552.0 817.6,549.6 818.8,547.3 820.0,545.2 821.2,543.2 822.4,541.2 823.6,539.5 824.8,537.8 826.0,536.2 827.3,534.8 828.5,533.6 829.7,532.4 830.9,531.4 832.1,530.5 833.3,529.8 834.5,529.2 835.7,528.7 837.0,528.4 838.2,528.3 839.4,528.2 840.6,528.4 841.8,528.6 843.0,529.0 844.2,529.6 845.4,530.2 846.7,531.1 847.9,532.0 849.1,533.1 850.3,534.3 851.5,535.7 852.7,537.2 853.9,538.8 855.1,540.6 856.4,542.4 857.6,544.4 858.8,546.5 860.0,548.8 861.2,551.1 862.4,553.5 863.6,556.1 864.8,558.7 866.0,561.4 867.3,564.2 868.5,567.1 869.7,570.1 870.9,573.2 872.1,576.3 873.3,579.5 874.5,582.8 875.7,586.1 877.0,589.4 878.2,592.8 879.4,596.3 880.6,599.8 881.8,603.3 883.0,606.8 884.2,610.3 885.4,613.9 886.7,617.5 887.9,621.0 889.1,624.6 890.3,628.1 891.5,631.7 892.7,635.2 893.9,638.6 895.1,642.1 896.4,645.5 897.6,648.8 898.8,652.1 900.0,655.4 901.2,658.6 902.4,661.7 903.6,664.8 904.8,667.7 906.1,670.6 907.3,673.4 908.5,676.2 909.7,678.8 910.9,681.3 912.1,683.7 913.3,686.1 914.5,688.3 915.7,690.4 917.0,692.3 918.2,694.2 919.4,695.9 920.6,697.5 921.8,699.0 923.0,700.4 924.2,701.6 925.4,702.7 926.7,703.6 927.9,704.4 929.1,705.1 930.3,705.6 931.5,706.0 932.7,706.3 933.9,706.4 935.1,706.3 936.4,706.1 937.6,705.8 938.8,705.4 940.0,704.7 941.2,704.0 942.4,703.1 943.6,702.1 944.8,700.9 946.1,699.6 947.3,698.2 948.5,696.7 949.7,695.0" fill="none" stroke="#0000ff" stroke-width="3.3" stroke-linejoin="round"/>
<rect x="729.1" y="9.8" width="213.5" height="136.5" fill="#fff" stroke="#000" stroke-width="1.6"/>
<line x1="732.5" x2="802.6" y1="30.9" y2="30.9" stroke="#0000ff" stroke-width="3.3" stroke-linecap="round"/>
<line x1="732.5" x2="802.6" y1="74.3" y2="74.3" stroke="#d81010" stroke-width="1.2"/>
<circle cx="767.8" cy="74.3" r="5.8" fill="#a2f8f5"/><circle cx="767.8" cy="74.3" r="4.85" fill="#008080"/>
<line x1="732.5" x2="802.6" y1="119.7" y2="119.7" stroke="#9400d3" stroke-width="1.2"/>
<path d="M767.8 112.9 l7.3 6.8 l-7.3 6.8 l-7.3 -6.8 Z" fill="#ffb0da"/><path d="M767.8 114.0 l6.2 5.7 l-6.2 5.7 l-6.2 -5.7 Z" fill="#ff007f"/>
<use href="#w" stroke-width="3.2" transform="translate(809.8 41.8) scale(1.000)"/>
<text x="839.2" y="48.6" font-family="Liberation Sans, sans-serif" font-size="20.5" fill="#000">p,I</text>
<line x1="866.6" y1="41.2" x2="874.0" y2="19.4" stroke="#000" stroke-width="2.6" stroke-linecap="round"/>
<use href="#w" stroke-width="3.2" transform="translate(878.6 41.8) scale(1.000)"/>
<text x="907.6" y="48.6" font-family="Liberation Sans, sans-serif" font-size="20.5" fill="#000">p,R</text>
<use href="#w" stroke-width="3.2" transform="translate(811.0 85.2) scale(1.000)"/>
<text x="840.4" y="92.0" font-family="Liberation Sans, sans-serif" font-size="20.5" fill="#000">p,R</text>
<use href="#w" stroke-width="3.2" transform="translate(811.0 130.6) scale(1.000)"/>
<text x="840.4" y="137.4" font-family="Liberation Sans, sans-serif" font-size="20.5" fill="#000">p,I</text>
<rect x="742.6" y="380.9" width="200.0" height="136.8" fill="#fff" stroke="#000" stroke-width="1.6"/>
<line x1="751.0" x2="821.0" y1="402.2" y2="402.2" stroke="#0000ff" stroke-width="3.3" stroke-linecap="round"/>
<line x1="751.0" x2="821.0" y1="445.8" y2="445.8" stroke="#d81010" stroke-width="1.2"/>
<circle cx="785.9" cy="445.8" r="5.8" fill="#a2f8f5"/><circle cx="785.9" cy="445.8" r="4.85" fill="#008080"/>
<line x1="751.0" x2="821.0" y1="490.6" y2="490.6" stroke="#9400d3" stroke-width="1.2"/>
<path d="M785.9 483.8 l7.3 6.8 l-7.3 6.8 l-7.3 -6.8 Z" fill="#ffb0da"/><path d="M785.9 484.9 l6.2 5.7 l-6.2 5.7 l-6.2 -5.7 Z" fill="#ff007f"/>
<use href="#w" stroke-width="3.2" transform="translate(834.2 413.1) scale(1.000)"/>
<text x="865.0" y="419.9" font-family="Liberation Sans, sans-serif" font-size="20.5" fill="#000">I</text>
<line x1="876.4" y1="411.8" x2="882.3" y2="391.5" stroke="#000" stroke-width="2.6" stroke-linecap="round"/>
<use href="#w" stroke-width="3.2" transform="translate(889.7 413.1) scale(1.000)"/>
<text x="918.1" y="419.9" font-family="Liberation Sans, sans-serif" font-size="20.5" fill="#000">R</text>
<use href="#w" stroke-width="3.2" transform="translate(834.2 456.7) scale(1.000)"/>
<text x="861.9" y="463.5" font-family="Liberation Sans, sans-serif" font-size="20.5" fill="#000">R</text>
<use href="#w" stroke-width="3.2" transform="translate(834.2 501.5) scale(1.000)"/>
<text x="865.0" y="508.3" font-family="Liberation Sans, sans-serif" font-size="20.5" fill="#000">I</text>
<text x="119.2" y="50.1" font-family="Liberation Sans, sans-serif" font-size="34.3" fill="#000">K</text>
<text x="141.8" y="58.8" font-family="Liberation Sans, sans-serif" font-size="22.5" fill="#000">R</text>
<text transform="translate(159.2 50.1) scale(0.93 1)" font-family="Liberation Sans, sans-serif" font-size="34.3" fill="#000">=</text>
<path d="M582 0V1237L264 1010V1180L597 1409H763V0Z" transform="translate(176.88 50.10) scale(0.01675 -0.01675)" fill="#000"/>
<text x="119.2" y="98.5" font-family="Liberation Sans, sans-serif" font-size="34.3" fill="#000">K</text>
<text x="145.7" y="107.2" font-family="Liberation Sans, sans-serif" font-size="22.5" fill="#000">I</text>
<text transform="translate(159.2 98.5) scale(0.93 1)" font-family="Liberation Sans, sans-serif" font-size="34.3" fill="#000">=</text>
<text x="177.2" y="98.5" font-family="Liberation Sans, sans-serif" font-size="34.3" fill="#000">2</text>
<text x="167.2" y="421.9" font-family="Liberation Sans, sans-serif" font-size="34.3" fill="#000">K</text>
<text x="189.8" y="430.6" font-family="Liberation Sans, sans-serif" font-size="22.5" fill="#000">R</text>
<text transform="translate(207.2 421.9) scale(0.93 1)" font-family="Liberation Sans, sans-serif" font-size="34.3" fill="#000">=</text>
<path d="M582 0V1237L264 1010V1180L597 1409H763V0Z" transform="translate(224.88 421.90) scale(0.01675 -0.01675)" fill="#000"/>
<text x="167.2" y="470.3" font-family="Liberation Sans, sans-serif" font-size="34.3" fill="#000">K</text>
<text x="193.7" y="479.0" font-family="Liberation Sans, sans-serif" font-size="22.5" fill="#000">I</text>
<text transform="translate(207.2 470.3) scale(0.93 1)" font-family="Liberation Sans, sans-serif" font-size="34.3" fill="#000">=</text>
<text x="225.2" y="470.3" font-family="Liberation Sans, sans-serif" font-size="34.3" fill="#000">2</text>
<text x="4.4" y="35.4" font-family="Liberation Sans, sans-serif" font-size="43.4" font-weight="bold" fill="#000">A</text>
<text x="2.0" y="414.8" font-family="Liberation Sans, sans-serif" font-size="43.4" font-weight="bold" fill="#000">B</text>
<g transform="translate(0 332.0) rotate(-90)">
<use href="#w" stroke-width="3.5" transform="translate(0.50 35.65) scale(1.330)"/>
<text x="38.93" y="46.20" font-family="Liberation Sans, sans-serif" font-size="29.0" fill="#000">p</text>
<text x="55.09" y="46.20" font-family="Liberation Sans, sans-serif" font-size="29.0" fill="#000">,</text>
<text x="63.42" y="46.20" font-family="Liberation Sans, sans-serif" font-size="29.0" fill="#000">I</text>
<text transform="translate(72.10 35.20) scale(0.860 1)" font-family="Liberation Sans, sans-serif" font-size="45.0" fill="#000" stroke="#000" stroke-width="0.45">(</text>
<text transform="translate(86.45 35.20) scale(0.950 1)" font-family="Liberation Sans, sans-serif" font-size="45.0" fill="#000" stroke="#000" stroke-width="0.45">t</text>
<text transform="translate(100.67 35.20) scale(0.860 1)" font-family="Liberation Sans, sans-serif" font-size="45.0" fill="#000" stroke="#000" stroke-width="0.45">)</text>
<line x1="118.60" y1="33.60" x2="126.60" y2="5.00" stroke="#000" stroke-width="3.5" stroke-linecap="round"/>
<use href="#w" stroke-width="3.5" transform="translate(136.30 35.65) scale(1.330)"/>
<text x="174.63" y="46.20" font-family="Liberation Sans, sans-serif" font-size="29.0" fill="#000">p</text>
<text x="190.29" y="46.20" font-family="Liberation Sans, sans-serif" font-size="29.0" fill="#000">,</text>
<text x="198.82" y="46.20" font-family="Liberation Sans, sans-serif" font-size="29.0" fill="#000">R</text>
<text transform="translate(220.30 35.20) scale(0.860 1)" font-family="Liberation Sans, sans-serif" font-size="45.0" fill="#000" stroke="#000" stroke-width="0.45">(</text>
<text transform="translate(234.25 35.20) scale(0.950 1)" font-family="Liberation Sans, sans-serif" font-size="45.0" fill="#000" stroke="#000" stroke-width="0.45">t</text>
<text transform="translate(248.37 35.20) scale(0.860 1)" font-family="Liberation Sans, sans-serif" font-size="45.0" fill="#000" stroke="#000" stroke-width="0.45">)</text>
</g>
<g transform="translate(0 679.0) rotate(-90)">
<use href="#w" stroke-width="3.5" transform="translate(0.80 35.65) scale(1.330)"/>
<text x="38.52" y="46.20" font-family="Liberation Sans, sans-serif" font-size="29.0" fill="#000">I</text>
<text transform="translate(47.50 35.20) scale(0.860 1)" font-family="Liberation Sans, sans-serif" font-size="45.0" fill="#000" stroke="#000" stroke-width="0.45">(</text>
<text transform="translate(61.45 35.20) scale(0.950 1)" font-family="Liberation Sans, sans-serif" font-size="45.0" fill="#000" stroke="#000" stroke-width="0.45">t</text>
<text transform="translate(74.87 35.20) scale(0.860 1)" font-family="Liberation Sans, sans-serif" font-size="45.0" fill="#000" stroke="#000" stroke-width="0.45">)</text>
<line x1="94.10" y1="33.60" x2="102.30" y2="5.00" stroke="#000" stroke-width="3.5" stroke-linecap="round"/>
<use href="#w" stroke-width="3.5" transform="translate(112.30 35.65) scale(1.330)"/>
<text x="150.32" y="46.20" font-family="Liberation Sans, sans-serif" font-size="29.0" fill="#000">R</text>
<text transform="translate(171.20 35.20) scale(0.860 1)" font-family="Liberation Sans, sans-serif" font-size="45.0" fill="#000" stroke="#000" stroke-width="0.45">(</text>
<text transform="translate(185.15 35.20) scale(0.950 1)" font-family="Liberation Sans, sans-serif" font-size="45.0" fill="#000" stroke="#000" stroke-width="0.45">t</text>
<text transform="translate(199.27 35.20) scale(0.860 1)" font-family="Liberation Sans, sans-serif" font-size="45.0" fill="#000" stroke="#000" stroke-width="0.45">)</text>
</g>
</svg>
</body></html>
